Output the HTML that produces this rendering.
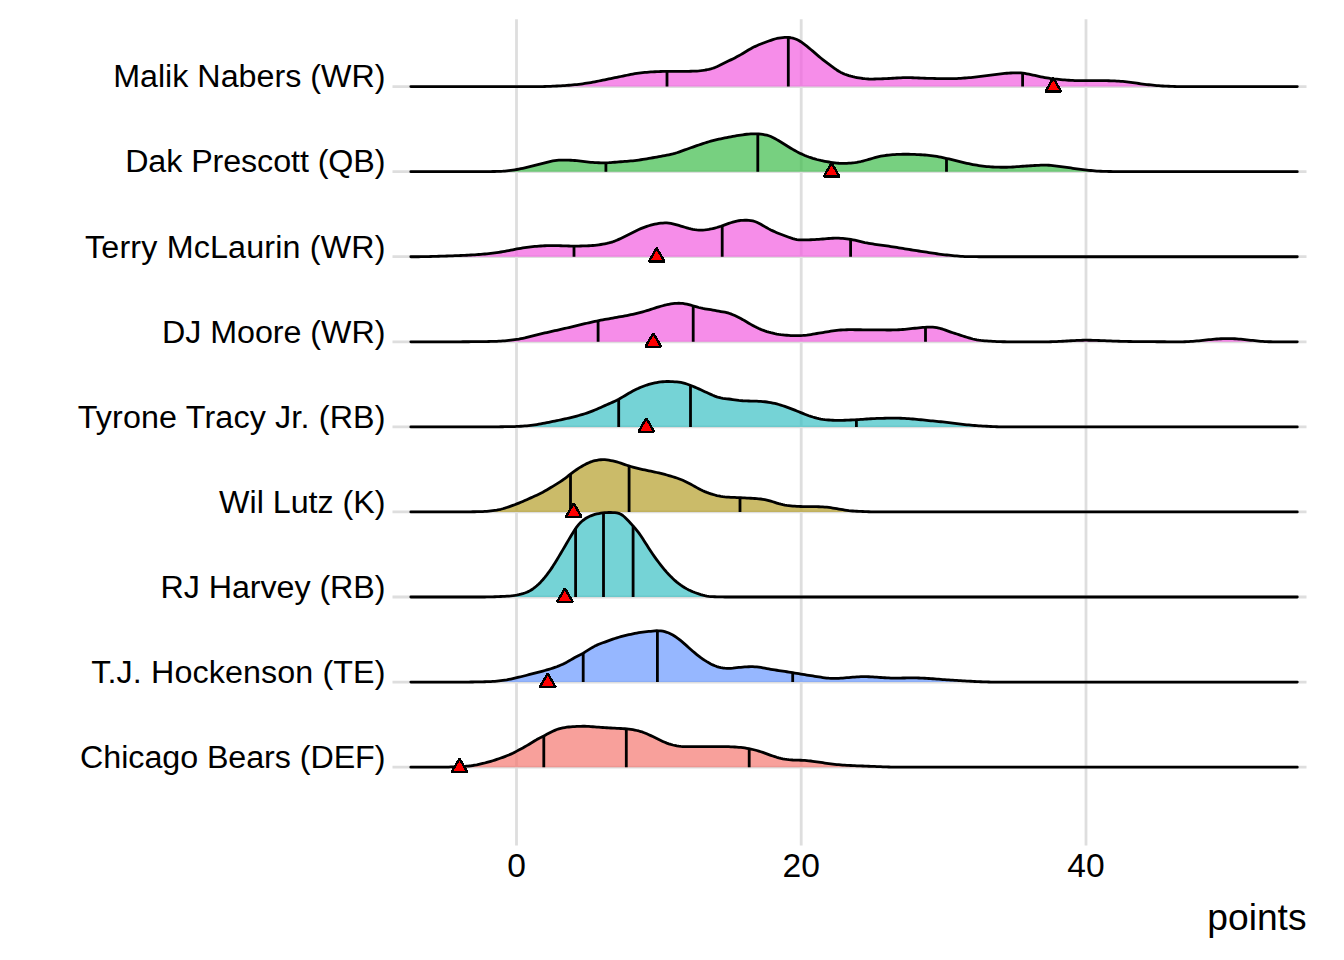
<!DOCTYPE html>
<html><head><meta charset="utf-8"><style>
html,body{margin:0;padding:0;background:#fff;width:1344px;height:960px;overflow:hidden}
svg text{font-family:"Liberation Sans",sans-serif;fill:#000}
</style></head><body>
<svg width="1344" height="960" viewBox="0 0 1344 960" style="display:block">
<rect width="1344" height="960" fill="#fff"/>
<path d="M392.5 86.6H1306.5M392.5 171.7H1306.5M392.5 256.7H1306.5M392.5 341.8H1306.5M392.5 426.9H1306.5M392.5 511.9H1306.5M392.5 597.0H1306.5M392.5 682.1H1306.5M392.5 767.2H1306.5M516.5 19.2V845.4M801.2 19.2V845.4M1086.0 19.2V845.4" stroke="#DEDEDE" stroke-width="2.8" fill="none"/>
<polygon points="410.8,86.60 410.8,86.60 412.8,86.60 414.8,86.60 416.8,86.60 418.8,86.60 420.8,86.60 422.8,86.60 424.8,86.60 426.8,86.60 428.8,86.60 430.8,86.60 432.8,86.60 434.8,86.60 436.8,86.60 438.8,86.60 440.8,86.60 442.8,86.60 444.8,86.60 446.8,86.60 448.8,86.60 450.8,86.60 452.8,86.60 454.8,86.60 456.8,86.60 458.8,86.60 460.8,86.60 462.8,86.60 464.8,86.60 466.8,86.60 468.8,86.60 470.8,86.60 472.8,86.60 474.8,86.60 476.8,86.60 478.8,86.60 480.8,86.60 482.8,86.60 484.8,86.60 486.8,86.60 488.8,86.60 490.8,86.60 492.8,86.60 494.8,86.60 496.8,86.60 498.8,86.60 500.8,86.60 502.8,86.60 504.8,86.60 506.8,86.60 508.8,86.60 510.8,86.60 512.8,86.60 514.8,86.60 516.8,86.60 518.8,86.60 520.8,86.60 522.8,86.60 524.8,86.60 526.8,86.60 528.8,86.60 530.8,86.60 532.8,86.60 534.8,86.60 536.8,86.60 538.8,86.59 540.8,86.58 542.8,86.56 544.8,86.52 546.8,86.46 548.8,86.39 550.8,86.31 552.8,86.21 554.8,86.11 556.8,86.01 558.8,85.89 560.8,85.78 562.8,85.66 564.8,85.54 566.8,85.40 568.8,85.25 570.8,85.09 572.8,84.91 574.8,84.73 576.8,84.52 578.8,84.29 580.8,84.05 582.8,83.77 584.8,83.48 586.8,83.17 588.8,82.85 590.8,82.51 592.8,82.16 594.8,81.79 596.8,81.40 598.8,81.00 600.8,80.59 602.8,80.18 604.8,79.76 606.8,79.35 608.8,78.94 610.8,78.53 612.8,78.12 614.8,77.71 616.8,77.31 618.8,76.90 620.8,76.50 622.8,76.09 624.8,75.67 626.8,75.25 628.8,74.84 630.8,74.44 632.8,74.07 634.8,73.73 636.8,73.42 638.8,73.15 640.8,72.90 642.8,72.67 644.8,72.46 646.8,72.27 648.8,72.11 650.8,71.97 652.8,71.85 654.8,71.75 656.8,71.66 658.8,71.58 660.8,71.51 662.8,71.46 664.8,71.43 666.8,71.41 668.8,71.40 670.8,71.40 672.8,71.40 674.8,71.40 676.8,71.40 678.8,71.40 680.8,71.39 682.8,71.39 684.8,71.37 686.8,71.34 688.8,71.31 690.8,71.26 692.8,71.20 694.8,71.13 696.8,71.03 698.8,70.88 700.8,70.68 702.8,70.42 704.8,70.11 706.8,69.75 708.8,69.34 710.8,68.86 712.8,68.27 714.8,67.57 716.8,66.74 718.8,65.82 720.8,64.84 722.8,63.83 724.8,62.82 726.8,61.84 728.8,60.86 730.8,59.88 732.8,58.89 734.8,57.88 736.8,56.84 738.8,55.76 740.8,54.64 742.8,53.46 744.8,52.25 746.8,51.03 748.8,49.82 750.8,48.68 752.8,47.60 754.8,46.61 756.8,45.69 758.8,44.83 760.8,44.02 762.8,43.24 764.8,42.50 766.8,41.77 768.8,41.04 770.8,40.33 772.8,39.64 774.8,39.01 776.8,38.48 778.8,38.07 780.8,37.77 782.8,37.58 784.8,37.46 786.8,37.43 788.8,37.51 790.8,37.75 792.8,38.16 794.8,38.74 796.8,39.52 798.8,40.51 800.8,41.72 802.8,43.11 804.8,44.62 806.8,46.19 808.8,47.81 810.8,49.47 812.8,51.17 814.8,52.91 816.8,54.63 818.8,56.33 820.8,57.98 822.8,59.57 824.8,61.13 826.8,62.65 828.8,64.15 830.8,65.63 832.8,67.11 834.8,68.57 836.8,69.97 838.8,71.26 840.8,72.39 842.8,73.35 844.8,74.19 846.8,74.93 848.8,75.59 850.8,76.18 852.8,76.68 854.8,77.13 856.8,77.53 858.8,77.89 860.8,78.21 862.8,78.50 864.8,78.73 866.8,78.90 868.8,79.01 870.8,79.05 872.8,79.05 874.8,79.01 876.8,78.96 878.8,78.90 880.8,78.83 882.8,78.76 884.8,78.68 886.8,78.59 888.8,78.49 890.8,78.37 892.8,78.25 894.8,78.12 896.8,78.00 898.8,77.89 900.8,77.79 902.8,77.71 904.8,77.66 906.8,77.64 908.8,77.64 910.8,77.68 912.8,77.73 914.8,77.80 916.8,77.89 918.8,77.98 920.8,78.07 922.8,78.16 924.8,78.25 926.8,78.32 928.8,78.38 930.8,78.42 932.8,78.47 934.8,78.50 936.8,78.54 938.8,78.57 940.8,78.61 942.8,78.63 944.8,78.66 946.8,78.67 948.8,78.68 950.8,78.68 952.8,78.66 954.8,78.61 956.8,78.53 958.8,78.43 960.8,78.30 962.8,78.17 964.8,78.02 966.8,77.86 968.8,77.70 970.8,77.52 972.8,77.32 974.8,77.10 976.8,76.88 978.8,76.64 980.8,76.39 982.8,76.15 984.8,75.90 986.8,75.64 988.8,75.39 990.8,75.13 992.8,74.86 994.8,74.58 996.8,74.31 998.8,74.05 1000.8,73.82 1002.8,73.61 1004.8,73.43 1006.8,73.27 1008.8,73.13 1010.8,73.00 1012.8,72.90 1014.8,72.82 1016.8,72.78 1018.8,72.82 1020.8,72.94 1022.8,73.15 1024.8,73.45 1026.8,73.80 1028.8,74.18 1030.8,74.58 1032.8,75.01 1034.8,75.45 1036.8,75.91 1038.8,76.37 1040.8,76.80 1042.8,77.20 1044.8,77.57 1046.8,77.91 1048.8,78.23 1050.8,78.53 1052.8,78.79 1054.8,79.02 1056.8,79.23 1058.8,79.42 1060.8,79.60 1062.8,79.77 1064.8,79.94 1066.8,80.09 1068.8,80.24 1070.8,80.36 1072.8,80.47 1074.8,80.56 1076.8,80.62 1078.8,80.66 1080.8,80.69 1082.8,80.70 1084.8,80.70 1086.8,80.70 1088.8,80.70 1090.8,80.70 1092.8,80.70 1094.8,80.70 1096.8,80.70 1098.8,80.70 1100.8,80.70 1102.8,80.70 1104.8,80.71 1106.8,80.72 1108.8,80.76 1110.8,80.81 1112.8,80.88 1114.8,80.97 1116.8,81.08 1118.8,81.19 1120.8,81.32 1122.8,81.47 1124.8,81.63 1126.8,81.81 1128.8,82.03 1130.8,82.29 1132.8,82.58 1134.8,82.88 1136.8,83.19 1138.8,83.50 1140.8,83.78 1142.8,84.05 1144.8,84.30 1146.8,84.54 1148.8,84.76 1150.8,84.98 1152.8,85.19 1154.8,85.38 1156.8,85.56 1158.8,85.72 1160.8,85.86 1162.8,85.98 1164.8,86.09 1166.8,86.18 1168.8,86.27 1170.8,86.35 1172.8,86.42 1174.8,86.48 1176.8,86.53 1178.8,86.56 1180.8,86.58 1182.8,86.59 1184.8,86.60 1186.8,86.60 1188.8,86.60 1190.8,86.60 1192.8,86.60 1194.8,86.60 1196.8,86.60 1198.8,86.60 1200.8,86.60 1202.8,86.60 1204.8,86.60 1206.8,86.60 1208.8,86.60 1210.8,86.60 1212.8,86.60 1214.8,86.60 1216.8,86.60 1218.8,86.60 1220.8,86.60 1222.8,86.60 1224.8,86.60 1226.8,86.60 1228.8,86.60 1230.8,86.60 1232.8,86.60 1234.8,86.60 1236.8,86.60 1238.8,86.60 1240.8,86.60 1242.8,86.60 1244.8,86.60 1246.8,86.60 1248.8,86.60 1250.8,86.60 1252.8,86.60 1254.8,86.60 1256.8,86.60 1258.8,86.60 1260.8,86.60 1262.8,86.60 1264.8,86.60 1266.8,86.60 1268.8,86.60 1270.8,86.60 1272.8,86.60 1274.8,86.60 1276.8,86.60 1278.8,86.60 1280.8,86.60 1282.8,86.60 1284.8,86.60 1286.8,86.60 1288.8,86.60 1290.8,86.60 1292.8,86.60 1294.8,86.60 1296.8,86.60 1297.3,86.60 1297.3,86.60" fill="rgb(242,92,224)" fill-opacity="0.7"/>
<path d="M667 86.60V71.40M788.3 86.60V37.30M1022.6 86.60V73.02" stroke="#000" stroke-width="2.8" fill="none"/>
<polyline points="410.8,86.60 412.8,86.60 414.8,86.60 416.8,86.60 418.8,86.60 420.8,86.60 422.8,86.60 424.8,86.60 426.8,86.60 428.8,86.60 430.8,86.60 432.8,86.60 434.8,86.60 436.8,86.60 438.8,86.60 440.8,86.60 442.8,86.60 444.8,86.60 446.8,86.60 448.8,86.60 450.8,86.60 452.8,86.60 454.8,86.60 456.8,86.60 458.8,86.60 460.8,86.60 462.8,86.60 464.8,86.60 466.8,86.60 468.8,86.60 470.8,86.60 472.8,86.60 474.8,86.60 476.8,86.60 478.8,86.60 480.8,86.60 482.8,86.60 484.8,86.60 486.8,86.60 488.8,86.60 490.8,86.60 492.8,86.60 494.8,86.60 496.8,86.60 498.8,86.60 500.8,86.60 502.8,86.60 504.8,86.60 506.8,86.60 508.8,86.60 510.8,86.60 512.8,86.60 514.8,86.60 516.8,86.60 518.8,86.60 520.8,86.60 522.8,86.60 524.8,86.60 526.8,86.60 528.8,86.60 530.8,86.60 532.8,86.60 534.8,86.60 536.8,86.60 538.8,86.59 540.8,86.58 542.8,86.56 544.8,86.52 546.8,86.46 548.8,86.39 550.8,86.31 552.8,86.21 554.8,86.11 556.8,86.01 558.8,85.89 560.8,85.78 562.8,85.66 564.8,85.54 566.8,85.40 568.8,85.25 570.8,85.09 572.8,84.91 574.8,84.73 576.8,84.52 578.8,84.29 580.8,84.05 582.8,83.77 584.8,83.48 586.8,83.17 588.8,82.85 590.8,82.51 592.8,82.16 594.8,81.79 596.8,81.40 598.8,81.00 600.8,80.59 602.8,80.18 604.8,79.76 606.8,79.35 608.8,78.94 610.8,78.53 612.8,78.12 614.8,77.71 616.8,77.31 618.8,76.90 620.8,76.50 622.8,76.09 624.8,75.67 626.8,75.25 628.8,74.84 630.8,74.44 632.8,74.07 634.8,73.73 636.8,73.42 638.8,73.15 640.8,72.90 642.8,72.67 644.8,72.46 646.8,72.27 648.8,72.11 650.8,71.97 652.8,71.85 654.8,71.75 656.8,71.66 658.8,71.58 660.8,71.51 662.8,71.46 664.8,71.43 666.8,71.41 668.8,71.40 670.8,71.40 672.8,71.40 674.8,71.40 676.8,71.40 678.8,71.40 680.8,71.39 682.8,71.39 684.8,71.37 686.8,71.34 688.8,71.31 690.8,71.26 692.8,71.20 694.8,71.13 696.8,71.03 698.8,70.88 700.8,70.68 702.8,70.42 704.8,70.11 706.8,69.75 708.8,69.34 710.8,68.86 712.8,68.27 714.8,67.57 716.8,66.74 718.8,65.82 720.8,64.84 722.8,63.83 724.8,62.82 726.8,61.84 728.8,60.86 730.8,59.88 732.8,58.89 734.8,57.88 736.8,56.84 738.8,55.76 740.8,54.64 742.8,53.46 744.8,52.25 746.8,51.03 748.8,49.82 750.8,48.68 752.8,47.60 754.8,46.61 756.8,45.69 758.8,44.83 760.8,44.02 762.8,43.24 764.8,42.50 766.8,41.77 768.8,41.04 770.8,40.33 772.8,39.64 774.8,39.01 776.8,38.48 778.8,38.07 780.8,37.77 782.8,37.58 784.8,37.46 786.8,37.43 788.8,37.51 790.8,37.75 792.8,38.16 794.8,38.74 796.8,39.52 798.8,40.51 800.8,41.72 802.8,43.11 804.8,44.62 806.8,46.19 808.8,47.81 810.8,49.47 812.8,51.17 814.8,52.91 816.8,54.63 818.8,56.33 820.8,57.98 822.8,59.57 824.8,61.13 826.8,62.65 828.8,64.15 830.8,65.63 832.8,67.11 834.8,68.57 836.8,69.97 838.8,71.26 840.8,72.39 842.8,73.35 844.8,74.19 846.8,74.93 848.8,75.59 850.8,76.18 852.8,76.68 854.8,77.13 856.8,77.53 858.8,77.89 860.8,78.21 862.8,78.50 864.8,78.73 866.8,78.90 868.8,79.01 870.8,79.05 872.8,79.05 874.8,79.01 876.8,78.96 878.8,78.90 880.8,78.83 882.8,78.76 884.8,78.68 886.8,78.59 888.8,78.49 890.8,78.37 892.8,78.25 894.8,78.12 896.8,78.00 898.8,77.89 900.8,77.79 902.8,77.71 904.8,77.66 906.8,77.64 908.8,77.64 910.8,77.68 912.8,77.73 914.8,77.80 916.8,77.89 918.8,77.98 920.8,78.07 922.8,78.16 924.8,78.25 926.8,78.32 928.8,78.38 930.8,78.42 932.8,78.47 934.8,78.50 936.8,78.54 938.8,78.57 940.8,78.61 942.8,78.63 944.8,78.66 946.8,78.67 948.8,78.68 950.8,78.68 952.8,78.66 954.8,78.61 956.8,78.53 958.8,78.43 960.8,78.30 962.8,78.17 964.8,78.02 966.8,77.86 968.8,77.70 970.8,77.52 972.8,77.32 974.8,77.10 976.8,76.88 978.8,76.64 980.8,76.39 982.8,76.15 984.8,75.90 986.8,75.64 988.8,75.39 990.8,75.13 992.8,74.86 994.8,74.58 996.8,74.31 998.8,74.05 1000.8,73.82 1002.8,73.61 1004.8,73.43 1006.8,73.27 1008.8,73.13 1010.8,73.00 1012.8,72.90 1014.8,72.82 1016.8,72.78 1018.8,72.82 1020.8,72.94 1022.8,73.15 1024.8,73.45 1026.8,73.80 1028.8,74.18 1030.8,74.58 1032.8,75.01 1034.8,75.45 1036.8,75.91 1038.8,76.37 1040.8,76.80 1042.8,77.20 1044.8,77.57 1046.8,77.91 1048.8,78.23 1050.8,78.53 1052.8,78.79 1054.8,79.02 1056.8,79.23 1058.8,79.42 1060.8,79.60 1062.8,79.77 1064.8,79.94 1066.8,80.09 1068.8,80.24 1070.8,80.36 1072.8,80.47 1074.8,80.56 1076.8,80.62 1078.8,80.66 1080.8,80.69 1082.8,80.70 1084.8,80.70 1086.8,80.70 1088.8,80.70 1090.8,80.70 1092.8,80.70 1094.8,80.70 1096.8,80.70 1098.8,80.70 1100.8,80.70 1102.8,80.70 1104.8,80.71 1106.8,80.72 1108.8,80.76 1110.8,80.81 1112.8,80.88 1114.8,80.97 1116.8,81.08 1118.8,81.19 1120.8,81.32 1122.8,81.47 1124.8,81.63 1126.8,81.81 1128.8,82.03 1130.8,82.29 1132.8,82.58 1134.8,82.88 1136.8,83.19 1138.8,83.50 1140.8,83.78 1142.8,84.05 1144.8,84.30 1146.8,84.54 1148.8,84.76 1150.8,84.98 1152.8,85.19 1154.8,85.38 1156.8,85.56 1158.8,85.72 1160.8,85.86 1162.8,85.98 1164.8,86.09 1166.8,86.18 1168.8,86.27 1170.8,86.35 1172.8,86.42 1174.8,86.48 1176.8,86.53 1178.8,86.56 1180.8,86.58 1182.8,86.59 1184.8,86.60 1186.8,86.60 1188.8,86.60 1190.8,86.60 1192.8,86.60 1194.8,86.60 1196.8,86.60 1198.8,86.60 1200.8,86.60 1202.8,86.60 1204.8,86.60 1206.8,86.60 1208.8,86.60 1210.8,86.60 1212.8,86.60 1214.8,86.60 1216.8,86.60 1218.8,86.60 1220.8,86.60 1222.8,86.60 1224.8,86.60 1226.8,86.60 1228.8,86.60 1230.8,86.60 1232.8,86.60 1234.8,86.60 1236.8,86.60 1238.8,86.60 1240.8,86.60 1242.8,86.60 1244.8,86.60 1246.8,86.60 1248.8,86.60 1250.8,86.60 1252.8,86.60 1254.8,86.60 1256.8,86.60 1258.8,86.60 1260.8,86.60 1262.8,86.60 1264.8,86.60 1266.8,86.60 1268.8,86.60 1270.8,86.60 1272.8,86.60 1274.8,86.60 1276.8,86.60 1278.8,86.60 1280.8,86.60 1282.8,86.60 1284.8,86.60 1286.8,86.60 1288.8,86.60 1290.8,86.60 1292.8,86.60 1294.8,86.60 1296.8,86.60 1297.3,86.60" stroke="#000" stroke-width="2.8" fill="none" stroke-linecap="round" stroke-linejoin="round"/>
<polygon points="410.8,171.67 410.8,171.67 412.8,171.67 414.8,171.67 416.8,171.67 418.8,171.67 420.8,171.67 422.8,171.67 424.8,171.67 426.8,171.67 428.8,171.67 430.8,171.67 432.8,171.67 434.8,171.67 436.8,171.67 438.8,171.67 440.8,171.67 442.8,171.67 444.8,171.67 446.8,171.67 448.8,171.67 450.8,171.67 452.8,171.67 454.8,171.67 456.8,171.67 458.8,171.67 460.8,171.67 462.8,171.67 464.8,171.67 466.8,171.67 468.8,171.67 470.8,171.67 472.8,171.67 474.8,171.66 476.8,171.65 478.8,171.64 480.8,171.63 482.8,171.62 484.8,171.60 486.8,171.58 488.8,171.56 490.8,171.54 492.8,171.51 494.8,171.48 496.8,171.44 498.8,171.40 500.8,171.32 502.8,171.22 504.8,171.07 506.8,170.88 508.8,170.65 510.8,170.40 512.8,170.13 514.8,169.83 516.8,169.50 518.8,169.13 520.8,168.72 522.8,168.28 524.8,167.82 526.8,167.34 528.8,166.86 530.8,166.37 532.8,165.86 534.8,165.34 536.8,164.82 538.8,164.30 540.8,163.79 542.8,163.29 544.8,162.80 546.8,162.31 548.8,161.82 550.8,161.34 552.8,160.91 554.8,160.55 556.8,160.28 558.8,160.13 560.8,160.06 562.8,160.05 564.8,160.08 566.8,160.13 568.8,160.20 570.8,160.27 572.8,160.37 574.8,160.50 576.8,160.67 578.8,160.89 580.8,161.15 582.8,161.43 584.8,161.70 586.8,161.94 588.8,162.14 590.8,162.30 592.8,162.44 594.8,162.57 596.8,162.67 598.8,162.76 600.8,162.82 602.8,162.85 604.8,162.84 606.8,162.78 608.8,162.69 610.8,162.55 612.8,162.40 614.8,162.24 616.8,162.07 618.8,161.91 620.8,161.76 622.8,161.61 624.8,161.46 626.8,161.30 628.8,161.14 630.8,160.96 632.8,160.77 634.8,160.55 636.8,160.30 638.8,160.04 640.8,159.75 642.8,159.44 644.8,159.12 646.8,158.79 648.8,158.46 650.8,158.11 652.8,157.75 654.8,157.38 656.8,157.01 658.8,156.63 660.8,156.26 662.8,155.90 664.8,155.53 666.8,155.16 668.8,154.77 670.8,154.34 672.8,153.87 674.8,153.34 676.8,152.74 678.8,152.08 680.8,151.38 682.8,150.66 684.8,149.93 686.8,149.21 688.8,148.50 690.8,147.78 692.8,147.07 694.8,146.36 696.8,145.67 698.8,144.98 700.8,144.31 702.8,143.66 704.8,143.01 706.8,142.38 708.8,141.78 710.8,141.20 712.8,140.65 714.8,140.14 716.8,139.66 718.8,139.20 720.8,138.77 722.8,138.35 724.8,137.94 726.8,137.54 728.8,137.15 730.8,136.76 732.8,136.38 734.8,136.02 736.8,135.67 738.8,135.36 740.8,135.06 742.8,134.77 744.8,134.50 746.8,134.25 748.8,134.04 750.8,133.89 752.8,133.81 754.8,133.80 756.8,133.87 758.8,134.01 760.8,134.21 762.8,134.47 764.8,134.79 766.8,135.21 768.8,135.77 770.8,136.51 772.8,137.43 774.8,138.48 776.8,139.62 778.8,140.80 780.8,141.99 782.8,143.21 784.8,144.45 786.8,145.71 788.8,146.98 790.8,148.22 792.8,149.40 794.8,150.53 796.8,151.61 798.8,152.64 800.8,153.63 802.8,154.56 804.8,155.43 806.8,156.24 808.8,156.99 810.8,157.68 812.8,158.33 814.8,158.93 816.8,159.49 818.8,160.00 820.8,160.48 822.8,160.91 824.8,161.31 826.8,161.67 828.8,162.00 830.8,162.30 832.8,162.58 834.8,162.84 836.8,163.07 838.8,163.25 840.8,163.37 842.8,163.42 844.8,163.40 846.8,163.32 848.8,163.19 850.8,163.03 852.8,162.83 854.8,162.60 856.8,162.30 858.8,161.94 860.8,161.51 862.8,161.03 864.8,160.51 866.8,159.98 868.8,159.43 870.8,158.86 872.8,158.28 874.8,157.70 876.8,157.15 878.8,156.66 880.8,156.23 882.8,155.87 884.8,155.55 886.8,155.26 888.8,155.02 890.8,154.82 892.8,154.66 894.8,154.54 896.8,154.44 898.8,154.36 900.8,154.30 902.8,154.26 904.8,154.23 906.8,154.23 908.8,154.26 910.8,154.30 912.8,154.37 914.8,154.44 916.8,154.53 918.8,154.63 920.8,154.74 922.8,154.87 924.8,155.02 926.8,155.19 928.8,155.38 930.8,155.59 932.8,155.85 934.8,156.14 936.8,156.47 938.8,156.83 940.8,157.23 942.8,157.64 944.8,158.07 946.8,158.52 948.8,158.98 950.8,159.47 952.8,159.97 954.8,160.47 956.8,160.96 958.8,161.45 960.8,161.93 962.8,162.40 964.8,162.86 966.8,163.30 968.8,163.72 970.8,164.12 972.8,164.51 974.8,164.88 976.8,165.23 978.8,165.55 980.8,165.84 982.8,166.09 984.8,166.33 986.8,166.53 988.8,166.72 990.8,166.87 992.8,166.99 994.8,167.08 996.8,167.15 998.8,167.20 1000.8,167.24 1002.8,167.26 1004.8,167.27 1006.8,167.26 1008.8,167.22 1010.8,167.13 1012.8,167.02 1014.8,166.88 1016.8,166.72 1018.8,166.56 1020.8,166.40 1022.8,166.26 1024.8,166.13 1026.8,166.00 1028.8,165.87 1030.8,165.74 1032.8,165.61 1034.8,165.49 1036.8,165.39 1038.8,165.29 1040.8,165.22 1042.8,165.17 1044.8,165.15 1046.8,165.18 1048.8,165.26 1050.8,165.40 1052.8,165.59 1054.8,165.81 1056.8,166.06 1058.8,166.32 1060.8,166.58 1062.8,166.84 1064.8,167.12 1066.8,167.40 1068.8,167.69 1070.8,167.99 1072.8,168.29 1074.8,168.58 1076.8,168.86 1078.8,169.12 1080.8,169.37 1082.8,169.61 1084.8,169.85 1086.8,170.08 1088.8,170.30 1090.8,170.51 1092.8,170.70 1094.8,170.88 1096.8,171.03 1098.8,171.15 1100.8,171.25 1102.8,171.32 1104.8,171.38 1106.8,171.43 1108.8,171.48 1110.8,171.52 1112.8,171.56 1114.8,171.59 1116.8,171.62 1118.8,171.64 1120.8,171.65 1122.8,171.66 1124.8,171.67 1126.8,171.67 1128.8,171.67 1130.8,171.67 1132.8,171.67 1134.8,171.67 1136.8,171.67 1138.8,171.67 1140.8,171.67 1142.8,171.67 1144.8,171.67 1146.8,171.67 1148.8,171.67 1150.8,171.67 1152.8,171.67 1154.8,171.67 1156.8,171.67 1158.8,171.67 1160.8,171.67 1162.8,171.67 1164.8,171.67 1166.8,171.67 1168.8,171.67 1170.8,171.67 1172.8,171.67 1174.8,171.67 1176.8,171.67 1178.8,171.67 1180.8,171.67 1182.8,171.67 1184.8,171.67 1186.8,171.67 1188.8,171.67 1190.8,171.67 1192.8,171.67 1194.8,171.67 1196.8,171.67 1198.8,171.67 1200.8,171.67 1202.8,171.67 1204.8,171.67 1206.8,171.67 1208.8,171.67 1210.8,171.67 1212.8,171.67 1214.8,171.67 1216.8,171.67 1218.8,171.67 1220.8,171.67 1222.8,171.67 1224.8,171.67 1226.8,171.67 1228.8,171.67 1230.8,171.67 1232.8,171.67 1234.8,171.67 1236.8,171.67 1238.8,171.67 1240.8,171.67 1242.8,171.67 1244.8,171.67 1246.8,171.67 1248.8,171.67 1250.8,171.67 1252.8,171.67 1254.8,171.67 1256.8,171.67 1258.8,171.67 1260.8,171.67 1262.8,171.67 1264.8,171.67 1266.8,171.67 1268.8,171.67 1270.8,171.67 1272.8,171.67 1274.8,171.67 1276.8,171.67 1278.8,171.67 1280.8,171.67 1282.8,171.67 1284.8,171.67 1286.8,171.67 1288.8,171.67 1290.8,171.67 1292.8,171.67 1294.8,171.67 1296.8,171.67 1297.3,171.67 1297.3,171.67" fill="rgb(61,188,74)" fill-opacity="0.7"/>
<path d="M605.9 171.67V162.87M757.8 171.67V133.86M946.5 171.67V158.42" stroke="#000" stroke-width="2.8" fill="none"/>
<polyline points="410.8,171.67 412.8,171.67 414.8,171.67 416.8,171.67 418.8,171.67 420.8,171.67 422.8,171.67 424.8,171.67 426.8,171.67 428.8,171.67 430.8,171.67 432.8,171.67 434.8,171.67 436.8,171.67 438.8,171.67 440.8,171.67 442.8,171.67 444.8,171.67 446.8,171.67 448.8,171.67 450.8,171.67 452.8,171.67 454.8,171.67 456.8,171.67 458.8,171.67 460.8,171.67 462.8,171.67 464.8,171.67 466.8,171.67 468.8,171.67 470.8,171.67 472.8,171.67 474.8,171.66 476.8,171.65 478.8,171.64 480.8,171.63 482.8,171.62 484.8,171.60 486.8,171.58 488.8,171.56 490.8,171.54 492.8,171.51 494.8,171.48 496.8,171.44 498.8,171.40 500.8,171.32 502.8,171.22 504.8,171.07 506.8,170.88 508.8,170.65 510.8,170.40 512.8,170.13 514.8,169.83 516.8,169.50 518.8,169.13 520.8,168.72 522.8,168.28 524.8,167.82 526.8,167.34 528.8,166.86 530.8,166.37 532.8,165.86 534.8,165.34 536.8,164.82 538.8,164.30 540.8,163.79 542.8,163.29 544.8,162.80 546.8,162.31 548.8,161.82 550.8,161.34 552.8,160.91 554.8,160.55 556.8,160.28 558.8,160.13 560.8,160.06 562.8,160.05 564.8,160.08 566.8,160.13 568.8,160.20 570.8,160.27 572.8,160.37 574.8,160.50 576.8,160.67 578.8,160.89 580.8,161.15 582.8,161.43 584.8,161.70 586.8,161.94 588.8,162.14 590.8,162.30 592.8,162.44 594.8,162.57 596.8,162.67 598.8,162.76 600.8,162.82 602.8,162.85 604.8,162.84 606.8,162.78 608.8,162.69 610.8,162.55 612.8,162.40 614.8,162.24 616.8,162.07 618.8,161.91 620.8,161.76 622.8,161.61 624.8,161.46 626.8,161.30 628.8,161.14 630.8,160.96 632.8,160.77 634.8,160.55 636.8,160.30 638.8,160.04 640.8,159.75 642.8,159.44 644.8,159.12 646.8,158.79 648.8,158.46 650.8,158.11 652.8,157.75 654.8,157.38 656.8,157.01 658.8,156.63 660.8,156.26 662.8,155.90 664.8,155.53 666.8,155.16 668.8,154.77 670.8,154.34 672.8,153.87 674.8,153.34 676.8,152.74 678.8,152.08 680.8,151.38 682.8,150.66 684.8,149.93 686.8,149.21 688.8,148.50 690.8,147.78 692.8,147.07 694.8,146.36 696.8,145.67 698.8,144.98 700.8,144.31 702.8,143.66 704.8,143.01 706.8,142.38 708.8,141.78 710.8,141.20 712.8,140.65 714.8,140.14 716.8,139.66 718.8,139.20 720.8,138.77 722.8,138.35 724.8,137.94 726.8,137.54 728.8,137.15 730.8,136.76 732.8,136.38 734.8,136.02 736.8,135.67 738.8,135.36 740.8,135.06 742.8,134.77 744.8,134.50 746.8,134.25 748.8,134.04 750.8,133.89 752.8,133.81 754.8,133.80 756.8,133.87 758.8,134.01 760.8,134.21 762.8,134.47 764.8,134.79 766.8,135.21 768.8,135.77 770.8,136.51 772.8,137.43 774.8,138.48 776.8,139.62 778.8,140.80 780.8,141.99 782.8,143.21 784.8,144.45 786.8,145.71 788.8,146.98 790.8,148.22 792.8,149.40 794.8,150.53 796.8,151.61 798.8,152.64 800.8,153.63 802.8,154.56 804.8,155.43 806.8,156.24 808.8,156.99 810.8,157.68 812.8,158.33 814.8,158.93 816.8,159.49 818.8,160.00 820.8,160.48 822.8,160.91 824.8,161.31 826.8,161.67 828.8,162.00 830.8,162.30 832.8,162.58 834.8,162.84 836.8,163.07 838.8,163.25 840.8,163.37 842.8,163.42 844.8,163.40 846.8,163.32 848.8,163.19 850.8,163.03 852.8,162.83 854.8,162.60 856.8,162.30 858.8,161.94 860.8,161.51 862.8,161.03 864.8,160.51 866.8,159.98 868.8,159.43 870.8,158.86 872.8,158.28 874.8,157.70 876.8,157.15 878.8,156.66 880.8,156.23 882.8,155.87 884.8,155.55 886.8,155.26 888.8,155.02 890.8,154.82 892.8,154.66 894.8,154.54 896.8,154.44 898.8,154.36 900.8,154.30 902.8,154.26 904.8,154.23 906.8,154.23 908.8,154.26 910.8,154.30 912.8,154.37 914.8,154.44 916.8,154.53 918.8,154.63 920.8,154.74 922.8,154.87 924.8,155.02 926.8,155.19 928.8,155.38 930.8,155.59 932.8,155.85 934.8,156.14 936.8,156.47 938.8,156.83 940.8,157.23 942.8,157.64 944.8,158.07 946.8,158.52 948.8,158.98 950.8,159.47 952.8,159.97 954.8,160.47 956.8,160.96 958.8,161.45 960.8,161.93 962.8,162.40 964.8,162.86 966.8,163.30 968.8,163.72 970.8,164.12 972.8,164.51 974.8,164.88 976.8,165.23 978.8,165.55 980.8,165.84 982.8,166.09 984.8,166.33 986.8,166.53 988.8,166.72 990.8,166.87 992.8,166.99 994.8,167.08 996.8,167.15 998.8,167.20 1000.8,167.24 1002.8,167.26 1004.8,167.27 1006.8,167.26 1008.8,167.22 1010.8,167.13 1012.8,167.02 1014.8,166.88 1016.8,166.72 1018.8,166.56 1020.8,166.40 1022.8,166.26 1024.8,166.13 1026.8,166.00 1028.8,165.87 1030.8,165.74 1032.8,165.61 1034.8,165.49 1036.8,165.39 1038.8,165.29 1040.8,165.22 1042.8,165.17 1044.8,165.15 1046.8,165.18 1048.8,165.26 1050.8,165.40 1052.8,165.59 1054.8,165.81 1056.8,166.06 1058.8,166.32 1060.8,166.58 1062.8,166.84 1064.8,167.12 1066.8,167.40 1068.8,167.69 1070.8,167.99 1072.8,168.29 1074.8,168.58 1076.8,168.86 1078.8,169.12 1080.8,169.37 1082.8,169.61 1084.8,169.85 1086.8,170.08 1088.8,170.30 1090.8,170.51 1092.8,170.70 1094.8,170.88 1096.8,171.03 1098.8,171.15 1100.8,171.25 1102.8,171.32 1104.8,171.38 1106.8,171.43 1108.8,171.48 1110.8,171.52 1112.8,171.56 1114.8,171.59 1116.8,171.62 1118.8,171.64 1120.8,171.65 1122.8,171.66 1124.8,171.67 1126.8,171.67 1128.8,171.67 1130.8,171.67 1132.8,171.67 1134.8,171.67 1136.8,171.67 1138.8,171.67 1140.8,171.67 1142.8,171.67 1144.8,171.67 1146.8,171.67 1148.8,171.67 1150.8,171.67 1152.8,171.67 1154.8,171.67 1156.8,171.67 1158.8,171.67 1160.8,171.67 1162.8,171.67 1164.8,171.67 1166.8,171.67 1168.8,171.67 1170.8,171.67 1172.8,171.67 1174.8,171.67 1176.8,171.67 1178.8,171.67 1180.8,171.67 1182.8,171.67 1184.8,171.67 1186.8,171.67 1188.8,171.67 1190.8,171.67 1192.8,171.67 1194.8,171.67 1196.8,171.67 1198.8,171.67 1200.8,171.67 1202.8,171.67 1204.8,171.67 1206.8,171.67 1208.8,171.67 1210.8,171.67 1212.8,171.67 1214.8,171.67 1216.8,171.67 1218.8,171.67 1220.8,171.67 1222.8,171.67 1224.8,171.67 1226.8,171.67 1228.8,171.67 1230.8,171.67 1232.8,171.67 1234.8,171.67 1236.8,171.67 1238.8,171.67 1240.8,171.67 1242.8,171.67 1244.8,171.67 1246.8,171.67 1248.8,171.67 1250.8,171.67 1252.8,171.67 1254.8,171.67 1256.8,171.67 1258.8,171.67 1260.8,171.67 1262.8,171.67 1264.8,171.67 1266.8,171.67 1268.8,171.67 1270.8,171.67 1272.8,171.67 1274.8,171.67 1276.8,171.67 1278.8,171.67 1280.8,171.67 1282.8,171.67 1284.8,171.67 1286.8,171.67 1288.8,171.67 1290.8,171.67 1292.8,171.67 1294.8,171.67 1296.8,171.67 1297.3,171.67" stroke="#000" stroke-width="2.8" fill="none" stroke-linecap="round" stroke-linejoin="round"/>
<polygon points="410.8,256.74 410.8,256.74 412.8,256.74 414.8,256.74 416.8,256.74 418.8,256.73 420.8,256.72 422.8,256.70 424.8,256.67 426.8,256.63 428.8,256.57 430.8,256.51 432.8,256.44 434.8,256.37 436.8,256.30 438.8,256.24 440.8,256.17 442.8,256.11 444.8,256.05 446.8,255.98 448.8,255.92 450.8,255.85 452.8,255.79 454.8,255.72 456.8,255.65 458.8,255.57 460.8,255.49 462.8,255.41 464.8,255.32 466.8,255.23 468.8,255.13 470.8,255.02 472.8,254.90 474.8,254.78 476.8,254.64 478.8,254.49 480.8,254.33 482.8,254.17 484.8,253.99 486.8,253.80 488.8,253.60 490.8,253.39 492.8,253.16 494.8,252.90 496.8,252.62 498.8,252.32 500.8,252.00 502.8,251.67 504.8,251.32 506.8,250.96 508.8,250.59 510.8,250.19 512.8,249.79 514.8,249.38 516.8,248.98 518.8,248.61 520.8,248.26 522.8,247.94 524.8,247.65 526.8,247.37 528.8,247.11 530.8,246.88 532.8,246.66 534.8,246.47 536.8,246.29 538.8,246.13 540.8,245.99 542.8,245.85 544.8,245.74 546.8,245.64 548.8,245.58 550.8,245.54 552.8,245.54 554.8,245.56 556.8,245.61 558.8,245.67 560.8,245.74 562.8,245.81 564.8,245.88 566.8,245.95 568.8,246.01 570.8,246.05 572.8,246.07 574.8,246.08 576.8,246.07 578.8,246.05 580.8,246.01 582.8,245.96 584.8,245.91 586.8,245.84 588.8,245.76 590.8,245.65 592.8,245.50 594.8,245.31 596.8,245.08 598.8,244.81 600.8,244.50 602.8,244.17 604.8,243.80 606.8,243.40 608.8,242.95 610.8,242.43 612.8,241.80 614.8,241.08 616.8,240.25 618.8,239.35 620.8,238.41 622.8,237.44 624.8,236.46 626.8,235.48 628.8,234.48 630.8,233.46 632.8,232.42 634.8,231.40 636.8,230.41 638.8,229.49 640.8,228.63 642.8,227.84 644.8,227.10 646.8,226.41 648.8,225.77 650.8,225.18 652.8,224.65 654.8,224.18 656.8,223.78 658.8,223.45 660.8,223.21 662.8,223.04 664.8,222.95 666.8,222.97 668.8,223.11 670.8,223.40 672.8,223.81 674.8,224.31 676.8,224.86 678.8,225.44 680.8,226.04 682.8,226.65 684.8,227.26 686.8,227.84 688.8,228.40 690.8,228.90 692.8,229.35 694.8,229.69 696.8,229.92 698.8,230.04 700.8,230.07 702.8,230.04 704.8,229.94 706.8,229.73 708.8,229.40 710.8,228.99 712.8,228.52 714.8,228.03 716.8,227.50 718.8,226.92 720.8,226.28 722.8,225.58 724.8,224.83 726.8,224.08 728.8,223.37 730.8,222.73 732.8,222.15 734.8,221.62 736.8,221.14 738.8,220.74 740.8,220.45 742.8,220.30 744.8,220.24 746.8,220.25 748.8,220.34 750.8,220.56 752.8,220.94 754.8,221.52 756.8,222.28 758.8,223.21 760.8,224.30 762.8,225.46 764.8,226.63 766.8,227.78 768.8,228.88 770.8,229.91 772.8,230.88 774.8,231.80 776.8,232.67 778.8,233.50 780.8,234.28 782.8,235.04 784.8,235.77 786.8,236.49 788.8,237.22 790.8,237.92 792.8,238.56 794.8,239.11 796.8,239.52 798.8,239.78 800.8,239.90 802.8,239.94 804.8,239.92 806.8,239.87 808.8,239.81 810.8,239.74 812.8,239.66 814.8,239.57 816.8,239.46 818.8,239.33 820.8,239.18 822.8,239.01 824.8,238.84 826.8,238.67 828.8,238.51 830.8,238.37 832.8,238.26 834.8,238.19 836.8,238.17 838.8,238.21 840.8,238.30 842.8,238.45 844.8,238.64 846.8,238.87 848.8,239.12 850.8,239.42 852.8,239.77 854.8,240.17 856.8,240.63 858.8,241.12 860.8,241.62 862.8,242.10 864.8,242.56 866.8,242.96 868.8,243.33 870.8,243.66 872.8,243.97 874.8,244.27 876.8,244.55 878.8,244.83 880.8,245.10 882.8,245.37 884.8,245.65 886.8,245.94 888.8,246.23 890.8,246.53 892.8,246.84 894.8,247.16 896.8,247.48 898.8,247.80 900.8,248.13 902.8,248.45 904.8,248.78 906.8,249.11 908.8,249.43 910.8,249.75 912.8,250.07 914.8,250.38 916.8,250.69 918.8,251.00 920.8,251.31 922.8,251.62 924.8,251.93 926.8,252.24 928.8,252.55 930.8,252.86 932.8,253.16 934.8,253.46 936.8,253.75 938.8,254.03 940.8,254.30 942.8,254.55 944.8,254.78 946.8,255.00 948.8,255.21 950.8,255.41 952.8,255.60 954.8,255.79 956.8,255.98 958.8,256.15 960.8,256.30 962.8,256.43 964.8,256.54 966.8,256.62 968.8,256.67 970.8,256.69 972.8,256.71 974.8,256.72 976.8,256.72 978.8,256.73 980.8,256.73 982.8,256.73 984.8,256.74 986.8,256.74 988.8,256.74 990.8,256.74 992.8,256.74 994.8,256.74 996.8,256.74 998.8,256.74 1000.8,256.74 1002.8,256.74 1004.8,256.74 1006.8,256.74 1008.8,256.74 1010.8,256.74 1012.8,256.74 1014.8,256.74 1016.8,256.74 1018.8,256.74 1020.8,256.74 1022.8,256.74 1024.8,256.74 1026.8,256.74 1028.8,256.74 1030.8,256.74 1032.8,256.74 1034.8,256.74 1036.8,256.74 1038.8,256.74 1040.8,256.74 1042.8,256.74 1044.8,256.74 1046.8,256.74 1048.8,256.74 1050.8,256.74 1052.8,256.74 1054.8,256.74 1056.8,256.74 1058.8,256.74 1060.8,256.74 1062.8,256.74 1064.8,256.74 1066.8,256.74 1068.8,256.74 1070.8,256.74 1072.8,256.74 1074.8,256.74 1076.8,256.74 1078.8,256.74 1080.8,256.74 1082.8,256.74 1084.8,256.74 1086.8,256.74 1088.8,256.74 1090.8,256.74 1092.8,256.74 1094.8,256.74 1096.8,256.74 1098.8,256.74 1100.8,256.74 1102.8,256.74 1104.8,256.74 1106.8,256.74 1108.8,256.74 1110.8,256.74 1112.8,256.74 1114.8,256.74 1116.8,256.74 1118.8,256.74 1120.8,256.74 1122.8,256.74 1124.8,256.74 1126.8,256.74 1128.8,256.74 1130.8,256.74 1132.8,256.74 1134.8,256.74 1136.8,256.74 1138.8,256.74 1140.8,256.74 1142.8,256.74 1144.8,256.74 1146.8,256.74 1148.8,256.74 1150.8,256.74 1152.8,256.74 1154.8,256.74 1156.8,256.74 1158.8,256.74 1160.8,256.74 1162.8,256.74 1164.8,256.74 1166.8,256.74 1168.8,256.74 1170.8,256.74 1172.8,256.74 1174.8,256.74 1176.8,256.74 1178.8,256.74 1180.8,256.74 1182.8,256.74 1184.8,256.74 1186.8,256.74 1188.8,256.74 1190.8,256.74 1192.8,256.74 1194.8,256.74 1196.8,256.74 1198.8,256.74 1200.8,256.74 1202.8,256.74 1204.8,256.74 1206.8,256.74 1208.8,256.74 1210.8,256.74 1212.8,256.74 1214.8,256.74 1216.8,256.74 1218.8,256.74 1220.8,256.74 1222.8,256.74 1224.8,256.74 1226.8,256.74 1228.8,256.74 1230.8,256.74 1232.8,256.74 1234.8,256.74 1236.8,256.74 1238.8,256.74 1240.8,256.74 1242.8,256.74 1244.8,256.74 1246.8,256.74 1248.8,256.74 1250.8,256.74 1252.8,256.74 1254.8,256.74 1256.8,256.74 1258.8,256.74 1260.8,256.74 1262.8,256.74 1264.8,256.74 1266.8,256.74 1268.8,256.74 1270.8,256.74 1272.8,256.74 1274.8,256.74 1276.8,256.74 1278.8,256.74 1280.8,256.74 1282.8,256.74 1284.8,256.74 1286.8,256.74 1288.8,256.74 1290.8,256.74 1292.8,256.74 1294.8,256.74 1296.8,256.74 1297.3,256.74 1297.3,256.74" fill="rgb(242,92,224)" fill-opacity="0.7"/>
<path d="M574 256.74V246.10M722.2 256.74V225.90M850.6 256.74V239.33" stroke="#000" stroke-width="2.8" fill="none"/>
<polyline points="410.8,256.74 412.8,256.74 414.8,256.74 416.8,256.74 418.8,256.73 420.8,256.72 422.8,256.70 424.8,256.67 426.8,256.63 428.8,256.57 430.8,256.51 432.8,256.44 434.8,256.37 436.8,256.30 438.8,256.24 440.8,256.17 442.8,256.11 444.8,256.05 446.8,255.98 448.8,255.92 450.8,255.85 452.8,255.79 454.8,255.72 456.8,255.65 458.8,255.57 460.8,255.49 462.8,255.41 464.8,255.32 466.8,255.23 468.8,255.13 470.8,255.02 472.8,254.90 474.8,254.78 476.8,254.64 478.8,254.49 480.8,254.33 482.8,254.17 484.8,253.99 486.8,253.80 488.8,253.60 490.8,253.39 492.8,253.16 494.8,252.90 496.8,252.62 498.8,252.32 500.8,252.00 502.8,251.67 504.8,251.32 506.8,250.96 508.8,250.59 510.8,250.19 512.8,249.79 514.8,249.38 516.8,248.98 518.8,248.61 520.8,248.26 522.8,247.94 524.8,247.65 526.8,247.37 528.8,247.11 530.8,246.88 532.8,246.66 534.8,246.47 536.8,246.29 538.8,246.13 540.8,245.99 542.8,245.85 544.8,245.74 546.8,245.64 548.8,245.58 550.8,245.54 552.8,245.54 554.8,245.56 556.8,245.61 558.8,245.67 560.8,245.74 562.8,245.81 564.8,245.88 566.8,245.95 568.8,246.01 570.8,246.05 572.8,246.07 574.8,246.08 576.8,246.07 578.8,246.05 580.8,246.01 582.8,245.96 584.8,245.91 586.8,245.84 588.8,245.76 590.8,245.65 592.8,245.50 594.8,245.31 596.8,245.08 598.8,244.81 600.8,244.50 602.8,244.17 604.8,243.80 606.8,243.40 608.8,242.95 610.8,242.43 612.8,241.80 614.8,241.08 616.8,240.25 618.8,239.35 620.8,238.41 622.8,237.44 624.8,236.46 626.8,235.48 628.8,234.48 630.8,233.46 632.8,232.42 634.8,231.40 636.8,230.41 638.8,229.49 640.8,228.63 642.8,227.84 644.8,227.10 646.8,226.41 648.8,225.77 650.8,225.18 652.8,224.65 654.8,224.18 656.8,223.78 658.8,223.45 660.8,223.21 662.8,223.04 664.8,222.95 666.8,222.97 668.8,223.11 670.8,223.40 672.8,223.81 674.8,224.31 676.8,224.86 678.8,225.44 680.8,226.04 682.8,226.65 684.8,227.26 686.8,227.84 688.8,228.40 690.8,228.90 692.8,229.35 694.8,229.69 696.8,229.92 698.8,230.04 700.8,230.07 702.8,230.04 704.8,229.94 706.8,229.73 708.8,229.40 710.8,228.99 712.8,228.52 714.8,228.03 716.8,227.50 718.8,226.92 720.8,226.28 722.8,225.58 724.8,224.83 726.8,224.08 728.8,223.37 730.8,222.73 732.8,222.15 734.8,221.62 736.8,221.14 738.8,220.74 740.8,220.45 742.8,220.30 744.8,220.24 746.8,220.25 748.8,220.34 750.8,220.56 752.8,220.94 754.8,221.52 756.8,222.28 758.8,223.21 760.8,224.30 762.8,225.46 764.8,226.63 766.8,227.78 768.8,228.88 770.8,229.91 772.8,230.88 774.8,231.80 776.8,232.67 778.8,233.50 780.8,234.28 782.8,235.04 784.8,235.77 786.8,236.49 788.8,237.22 790.8,237.92 792.8,238.56 794.8,239.11 796.8,239.52 798.8,239.78 800.8,239.90 802.8,239.94 804.8,239.92 806.8,239.87 808.8,239.81 810.8,239.74 812.8,239.66 814.8,239.57 816.8,239.46 818.8,239.33 820.8,239.18 822.8,239.01 824.8,238.84 826.8,238.67 828.8,238.51 830.8,238.37 832.8,238.26 834.8,238.19 836.8,238.17 838.8,238.21 840.8,238.30 842.8,238.45 844.8,238.64 846.8,238.87 848.8,239.12 850.8,239.42 852.8,239.77 854.8,240.17 856.8,240.63 858.8,241.12 860.8,241.62 862.8,242.10 864.8,242.56 866.8,242.96 868.8,243.33 870.8,243.66 872.8,243.97 874.8,244.27 876.8,244.55 878.8,244.83 880.8,245.10 882.8,245.37 884.8,245.65 886.8,245.94 888.8,246.23 890.8,246.53 892.8,246.84 894.8,247.16 896.8,247.48 898.8,247.80 900.8,248.13 902.8,248.45 904.8,248.78 906.8,249.11 908.8,249.43 910.8,249.75 912.8,250.07 914.8,250.38 916.8,250.69 918.8,251.00 920.8,251.31 922.8,251.62 924.8,251.93 926.8,252.24 928.8,252.55 930.8,252.86 932.8,253.16 934.8,253.46 936.8,253.75 938.8,254.03 940.8,254.30 942.8,254.55 944.8,254.78 946.8,255.00 948.8,255.21 950.8,255.41 952.8,255.60 954.8,255.79 956.8,255.98 958.8,256.15 960.8,256.30 962.8,256.43 964.8,256.54 966.8,256.62 968.8,256.67 970.8,256.69 972.8,256.71 974.8,256.72 976.8,256.72 978.8,256.73 980.8,256.73 982.8,256.73 984.8,256.74 986.8,256.74 988.8,256.74 990.8,256.74 992.8,256.74 994.8,256.74 996.8,256.74 998.8,256.74 1000.8,256.74 1002.8,256.74 1004.8,256.74 1006.8,256.74 1008.8,256.74 1010.8,256.74 1012.8,256.74 1014.8,256.74 1016.8,256.74 1018.8,256.74 1020.8,256.74 1022.8,256.74 1024.8,256.74 1026.8,256.74 1028.8,256.74 1030.8,256.74 1032.8,256.74 1034.8,256.74 1036.8,256.74 1038.8,256.74 1040.8,256.74 1042.8,256.74 1044.8,256.74 1046.8,256.74 1048.8,256.74 1050.8,256.74 1052.8,256.74 1054.8,256.74 1056.8,256.74 1058.8,256.74 1060.8,256.74 1062.8,256.74 1064.8,256.74 1066.8,256.74 1068.8,256.74 1070.8,256.74 1072.8,256.74 1074.8,256.74 1076.8,256.74 1078.8,256.74 1080.8,256.74 1082.8,256.74 1084.8,256.74 1086.8,256.74 1088.8,256.74 1090.8,256.74 1092.8,256.74 1094.8,256.74 1096.8,256.74 1098.8,256.74 1100.8,256.74 1102.8,256.74 1104.8,256.74 1106.8,256.74 1108.8,256.74 1110.8,256.74 1112.8,256.74 1114.8,256.74 1116.8,256.74 1118.8,256.74 1120.8,256.74 1122.8,256.74 1124.8,256.74 1126.8,256.74 1128.8,256.74 1130.8,256.74 1132.8,256.74 1134.8,256.74 1136.8,256.74 1138.8,256.74 1140.8,256.74 1142.8,256.74 1144.8,256.74 1146.8,256.74 1148.8,256.74 1150.8,256.74 1152.8,256.74 1154.8,256.74 1156.8,256.74 1158.8,256.74 1160.8,256.74 1162.8,256.74 1164.8,256.74 1166.8,256.74 1168.8,256.74 1170.8,256.74 1172.8,256.74 1174.8,256.74 1176.8,256.74 1178.8,256.74 1180.8,256.74 1182.8,256.74 1184.8,256.74 1186.8,256.74 1188.8,256.74 1190.8,256.74 1192.8,256.74 1194.8,256.74 1196.8,256.74 1198.8,256.74 1200.8,256.74 1202.8,256.74 1204.8,256.74 1206.8,256.74 1208.8,256.74 1210.8,256.74 1212.8,256.74 1214.8,256.74 1216.8,256.74 1218.8,256.74 1220.8,256.74 1222.8,256.74 1224.8,256.74 1226.8,256.74 1228.8,256.74 1230.8,256.74 1232.8,256.74 1234.8,256.74 1236.8,256.74 1238.8,256.74 1240.8,256.74 1242.8,256.74 1244.8,256.74 1246.8,256.74 1248.8,256.74 1250.8,256.74 1252.8,256.74 1254.8,256.74 1256.8,256.74 1258.8,256.74 1260.8,256.74 1262.8,256.74 1264.8,256.74 1266.8,256.74 1268.8,256.74 1270.8,256.74 1272.8,256.74 1274.8,256.74 1276.8,256.74 1278.8,256.74 1280.8,256.74 1282.8,256.74 1284.8,256.74 1286.8,256.74 1288.8,256.74 1290.8,256.74 1292.8,256.74 1294.8,256.74 1296.8,256.74 1297.3,256.74" stroke="#000" stroke-width="2.8" fill="none" stroke-linecap="round" stroke-linejoin="round"/>
<polygon points="410.8,341.81 410.8,341.81 412.8,341.81 414.8,341.81 416.8,341.81 418.8,341.81 420.8,341.81 422.8,341.81 424.8,341.81 426.8,341.81 428.8,341.81 430.8,341.81 432.8,341.81 434.8,341.81 436.8,341.81 438.8,341.81 440.8,341.81 442.8,341.81 444.8,341.81 446.8,341.81 448.8,341.81 450.8,341.81 452.8,341.81 454.8,341.80 456.8,341.80 458.8,341.79 460.8,341.78 462.8,341.77 464.8,341.76 466.8,341.75 468.8,341.73 470.8,341.72 472.8,341.70 474.8,341.68 476.8,341.66 478.8,341.64 480.8,341.61 482.8,341.59 484.8,341.56 486.8,341.53 488.8,341.50 490.8,341.46 492.8,341.42 494.8,341.37 496.8,341.31 498.8,341.21 500.8,341.10 502.8,340.95 504.8,340.78 506.8,340.59 508.8,340.38 510.8,340.16 512.8,339.92 514.8,339.66 516.8,339.39 518.8,339.08 520.8,338.72 522.8,338.32 524.8,337.88 526.8,337.39 528.8,336.89 530.8,336.37 532.8,335.85 534.8,335.33 536.8,334.82 538.8,334.34 540.8,333.87 542.8,333.41 544.8,332.97 546.8,332.52 548.8,332.07 550.8,331.63 552.8,331.18 554.8,330.74 556.8,330.29 558.8,329.83 560.8,329.38 562.8,328.92 564.8,328.46 566.8,328.00 568.8,327.54 570.8,327.07 572.8,326.60 574.8,326.13 576.8,325.64 578.8,325.16 580.8,324.68 582.8,324.20 584.8,323.72 586.8,323.24 588.8,322.78 590.8,322.32 592.8,321.87 594.8,321.44 596.8,321.02 598.8,320.62 600.8,320.23 602.8,319.86 604.8,319.49 606.8,319.13 608.8,318.78 610.8,318.42 612.8,318.06 614.8,317.70 616.8,317.34 618.8,316.98 620.8,316.63 622.8,316.27 624.8,315.90 626.8,315.53 628.8,315.14 630.8,314.73 632.8,314.30 634.8,313.85 636.8,313.38 638.8,312.88 640.8,312.35 642.8,311.81 644.8,311.25 646.8,310.66 648.8,310.05 650.8,309.40 652.8,308.74 654.8,308.08 656.8,307.44 658.8,306.84 660.8,306.27 662.8,305.73 664.8,305.22 666.8,304.74 668.8,304.32 670.8,303.96 672.8,303.67 674.8,303.45 676.8,303.31 678.8,303.24 680.8,303.28 682.8,303.45 684.8,303.76 686.8,304.17 688.8,304.67 690.8,305.21 692.8,305.77 694.8,306.35 696.8,306.94 698.8,307.49 700.8,307.98 702.8,308.41 704.8,308.77 706.8,309.10 708.8,309.42 710.8,309.74 712.8,310.08 714.8,310.45 716.8,310.84 718.8,311.22 720.8,311.57 722.8,311.90 724.8,312.24 726.8,312.65 728.8,313.20 730.8,313.89 732.8,314.70 734.8,315.59 736.8,316.53 738.8,317.52 740.8,318.56 742.8,319.65 744.8,320.80 746.8,321.99 748.8,323.18 750.8,324.35 752.8,325.49 754.8,326.58 756.8,327.60 758.8,328.54 760.8,329.40 762.8,330.18 764.8,330.90 766.8,331.56 768.8,332.17 770.8,332.72 772.8,333.22 774.8,333.68 776.8,334.08 778.8,334.42 780.8,334.70 782.8,334.92 784.8,335.11 786.8,335.27 788.8,335.41 790.8,335.53 792.8,335.61 794.8,335.65 796.8,335.66 798.8,335.64 800.8,335.58 802.8,335.47 804.8,335.31 806.8,335.10 808.8,334.83 810.8,334.52 812.8,334.19 814.8,333.85 816.8,333.50 818.8,333.17 820.8,332.84 822.8,332.51 824.8,332.17 826.8,331.84 828.8,331.52 830.8,331.21 832.8,330.91 834.8,330.64 836.8,330.39 838.8,330.18 840.8,330.01 842.8,329.88 844.8,329.79 846.8,329.74 848.8,329.72 850.8,329.71 852.8,329.72 854.8,329.73 856.8,329.74 858.8,329.75 860.8,329.77 862.8,329.78 864.8,329.80 866.8,329.82 868.8,329.84 870.8,329.86 872.8,329.88 874.8,329.90 876.8,329.92 878.8,329.93 880.8,329.95 882.8,329.96 884.8,329.97 886.8,329.98 888.8,329.99 890.8,329.99 892.8,329.97 894.8,329.93 896.8,329.87 898.8,329.77 900.8,329.64 902.8,329.49 904.8,329.31 906.8,329.12 908.8,328.91 910.8,328.70 912.8,328.48 914.8,328.26 916.8,328.05 918.8,327.84 920.8,327.65 922.8,327.48 924.8,327.33 926.8,327.21 928.8,327.13 930.8,327.09 932.8,327.14 934.8,327.29 936.8,327.59 938.8,328.01 940.8,328.56 942.8,329.20 944.8,329.90 946.8,330.64 948.8,331.37 950.8,332.08 952.8,332.75 954.8,333.39 956.8,334.02 958.8,334.66 960.8,335.31 962.8,335.96 964.8,336.62 966.8,337.26 968.8,337.88 970.8,338.46 972.8,338.99 974.8,339.46 976.8,339.85 978.8,340.18 980.8,340.43 982.8,340.63 984.8,340.80 986.8,340.95 988.8,341.09 990.8,341.22 992.8,341.34 994.8,341.44 996.8,341.54 998.8,341.62 1000.8,341.69 1002.8,341.74 1004.8,341.77 1006.8,341.79 1008.8,341.80 1010.8,341.81 1012.8,341.81 1014.8,341.81 1016.8,341.81 1018.8,341.81 1020.8,341.81 1022.8,341.81 1024.8,341.81 1026.8,341.81 1028.8,341.81 1030.8,341.81 1032.8,341.81 1034.8,341.81 1036.8,341.81 1038.8,341.81 1040.8,341.81 1042.8,341.81 1044.8,341.81 1046.8,341.80 1048.8,341.79 1050.8,341.76 1052.8,341.71 1054.8,341.65 1056.8,341.56 1058.8,341.47 1060.8,341.36 1062.8,341.24 1064.8,341.12 1066.8,341.00 1068.8,340.87 1070.8,340.75 1072.8,340.63 1074.8,340.53 1076.8,340.43 1078.8,340.35 1080.8,340.29 1082.8,340.25 1084.8,340.22 1086.8,340.22 1088.8,340.24 1090.8,340.26 1092.8,340.30 1094.8,340.35 1096.8,340.41 1098.8,340.48 1100.8,340.55 1102.8,340.63 1104.8,340.71 1106.8,340.80 1108.8,340.88 1110.8,340.97 1112.8,341.05 1114.8,341.13 1116.8,341.20 1118.8,341.27 1120.8,341.34 1122.8,341.39 1124.8,341.44 1126.8,341.47 1128.8,341.50 1130.8,341.52 1132.8,341.54 1134.8,341.56 1136.8,341.58 1138.8,341.60 1140.8,341.62 1142.8,341.63 1144.8,341.65 1146.8,341.66 1148.8,341.68 1150.8,341.69 1152.8,341.71 1154.8,341.72 1156.8,341.73 1158.8,341.74 1160.8,341.75 1162.8,341.76 1164.8,341.77 1166.8,341.78 1168.8,341.79 1170.8,341.79 1172.8,341.80 1174.8,341.80 1176.8,341.80 1178.8,341.80 1180.8,341.80 1182.8,341.78 1184.8,341.74 1186.8,341.67 1188.8,341.57 1190.8,341.45 1192.8,341.31 1194.8,341.15 1196.8,340.97 1198.8,340.77 1200.8,340.57 1202.8,340.36 1204.8,340.15 1206.8,339.94 1208.8,339.73 1210.8,339.53 1212.8,339.33 1214.8,339.16 1216.8,338.99 1218.8,338.85 1220.8,338.73 1222.8,338.64 1224.8,338.57 1226.8,338.54 1228.8,338.55 1230.8,338.59 1232.8,338.66 1234.8,338.76 1236.8,338.89 1238.8,339.04 1240.8,339.22 1242.8,339.41 1244.8,339.61 1246.8,339.83 1248.8,340.04 1250.8,340.27 1252.8,340.48 1254.8,340.70 1256.8,340.90 1258.8,341.09 1260.8,341.27 1262.8,341.42 1264.8,341.55 1266.8,341.65 1268.8,341.73 1270.8,341.77 1272.8,341.80 1274.8,341.81 1276.8,341.81 1278.8,341.81 1280.8,341.81 1282.8,341.81 1284.8,341.81 1286.8,341.81 1288.8,341.81 1290.8,341.81 1292.8,341.81 1294.8,341.81 1296.8,341.81 1297.3,341.81 1297.3,341.81" fill="rgb(242,92,224)" fill-opacity="0.7"/>
<path d="M598.1 341.81V320.74M693.2 341.81V305.85M925.5 341.81V327.25" stroke="#000" stroke-width="2.8" fill="none"/>
<polyline points="410.8,341.81 412.8,341.81 414.8,341.81 416.8,341.81 418.8,341.81 420.8,341.81 422.8,341.81 424.8,341.81 426.8,341.81 428.8,341.81 430.8,341.81 432.8,341.81 434.8,341.81 436.8,341.81 438.8,341.81 440.8,341.81 442.8,341.81 444.8,341.81 446.8,341.81 448.8,341.81 450.8,341.81 452.8,341.81 454.8,341.80 456.8,341.80 458.8,341.79 460.8,341.78 462.8,341.77 464.8,341.76 466.8,341.75 468.8,341.73 470.8,341.72 472.8,341.70 474.8,341.68 476.8,341.66 478.8,341.64 480.8,341.61 482.8,341.59 484.8,341.56 486.8,341.53 488.8,341.50 490.8,341.46 492.8,341.42 494.8,341.37 496.8,341.31 498.8,341.21 500.8,341.10 502.8,340.95 504.8,340.78 506.8,340.59 508.8,340.38 510.8,340.16 512.8,339.92 514.8,339.66 516.8,339.39 518.8,339.08 520.8,338.72 522.8,338.32 524.8,337.88 526.8,337.39 528.8,336.89 530.8,336.37 532.8,335.85 534.8,335.33 536.8,334.82 538.8,334.34 540.8,333.87 542.8,333.41 544.8,332.97 546.8,332.52 548.8,332.07 550.8,331.63 552.8,331.18 554.8,330.74 556.8,330.29 558.8,329.83 560.8,329.38 562.8,328.92 564.8,328.46 566.8,328.00 568.8,327.54 570.8,327.07 572.8,326.60 574.8,326.13 576.8,325.64 578.8,325.16 580.8,324.68 582.8,324.20 584.8,323.72 586.8,323.24 588.8,322.78 590.8,322.32 592.8,321.87 594.8,321.44 596.8,321.02 598.8,320.62 600.8,320.23 602.8,319.86 604.8,319.49 606.8,319.13 608.8,318.78 610.8,318.42 612.8,318.06 614.8,317.70 616.8,317.34 618.8,316.98 620.8,316.63 622.8,316.27 624.8,315.90 626.8,315.53 628.8,315.14 630.8,314.73 632.8,314.30 634.8,313.85 636.8,313.38 638.8,312.88 640.8,312.35 642.8,311.81 644.8,311.25 646.8,310.66 648.8,310.05 650.8,309.40 652.8,308.74 654.8,308.08 656.8,307.44 658.8,306.84 660.8,306.27 662.8,305.73 664.8,305.22 666.8,304.74 668.8,304.32 670.8,303.96 672.8,303.67 674.8,303.45 676.8,303.31 678.8,303.24 680.8,303.28 682.8,303.45 684.8,303.76 686.8,304.17 688.8,304.67 690.8,305.21 692.8,305.77 694.8,306.35 696.8,306.94 698.8,307.49 700.8,307.98 702.8,308.41 704.8,308.77 706.8,309.10 708.8,309.42 710.8,309.74 712.8,310.08 714.8,310.45 716.8,310.84 718.8,311.22 720.8,311.57 722.8,311.90 724.8,312.24 726.8,312.65 728.8,313.20 730.8,313.89 732.8,314.70 734.8,315.59 736.8,316.53 738.8,317.52 740.8,318.56 742.8,319.65 744.8,320.80 746.8,321.99 748.8,323.18 750.8,324.35 752.8,325.49 754.8,326.58 756.8,327.60 758.8,328.54 760.8,329.40 762.8,330.18 764.8,330.90 766.8,331.56 768.8,332.17 770.8,332.72 772.8,333.22 774.8,333.68 776.8,334.08 778.8,334.42 780.8,334.70 782.8,334.92 784.8,335.11 786.8,335.27 788.8,335.41 790.8,335.53 792.8,335.61 794.8,335.65 796.8,335.66 798.8,335.64 800.8,335.58 802.8,335.47 804.8,335.31 806.8,335.10 808.8,334.83 810.8,334.52 812.8,334.19 814.8,333.85 816.8,333.50 818.8,333.17 820.8,332.84 822.8,332.51 824.8,332.17 826.8,331.84 828.8,331.52 830.8,331.21 832.8,330.91 834.8,330.64 836.8,330.39 838.8,330.18 840.8,330.01 842.8,329.88 844.8,329.79 846.8,329.74 848.8,329.72 850.8,329.71 852.8,329.72 854.8,329.73 856.8,329.74 858.8,329.75 860.8,329.77 862.8,329.78 864.8,329.80 866.8,329.82 868.8,329.84 870.8,329.86 872.8,329.88 874.8,329.90 876.8,329.92 878.8,329.93 880.8,329.95 882.8,329.96 884.8,329.97 886.8,329.98 888.8,329.99 890.8,329.99 892.8,329.97 894.8,329.93 896.8,329.87 898.8,329.77 900.8,329.64 902.8,329.49 904.8,329.31 906.8,329.12 908.8,328.91 910.8,328.70 912.8,328.48 914.8,328.26 916.8,328.05 918.8,327.84 920.8,327.65 922.8,327.48 924.8,327.33 926.8,327.21 928.8,327.13 930.8,327.09 932.8,327.14 934.8,327.29 936.8,327.59 938.8,328.01 940.8,328.56 942.8,329.20 944.8,329.90 946.8,330.64 948.8,331.37 950.8,332.08 952.8,332.75 954.8,333.39 956.8,334.02 958.8,334.66 960.8,335.31 962.8,335.96 964.8,336.62 966.8,337.26 968.8,337.88 970.8,338.46 972.8,338.99 974.8,339.46 976.8,339.85 978.8,340.18 980.8,340.43 982.8,340.63 984.8,340.80 986.8,340.95 988.8,341.09 990.8,341.22 992.8,341.34 994.8,341.44 996.8,341.54 998.8,341.62 1000.8,341.69 1002.8,341.74 1004.8,341.77 1006.8,341.79 1008.8,341.80 1010.8,341.81 1012.8,341.81 1014.8,341.81 1016.8,341.81 1018.8,341.81 1020.8,341.81 1022.8,341.81 1024.8,341.81 1026.8,341.81 1028.8,341.81 1030.8,341.81 1032.8,341.81 1034.8,341.81 1036.8,341.81 1038.8,341.81 1040.8,341.81 1042.8,341.81 1044.8,341.81 1046.8,341.80 1048.8,341.79 1050.8,341.76 1052.8,341.71 1054.8,341.65 1056.8,341.56 1058.8,341.47 1060.8,341.36 1062.8,341.24 1064.8,341.12 1066.8,341.00 1068.8,340.87 1070.8,340.75 1072.8,340.63 1074.8,340.53 1076.8,340.43 1078.8,340.35 1080.8,340.29 1082.8,340.25 1084.8,340.22 1086.8,340.22 1088.8,340.24 1090.8,340.26 1092.8,340.30 1094.8,340.35 1096.8,340.41 1098.8,340.48 1100.8,340.55 1102.8,340.63 1104.8,340.71 1106.8,340.80 1108.8,340.88 1110.8,340.97 1112.8,341.05 1114.8,341.13 1116.8,341.20 1118.8,341.27 1120.8,341.34 1122.8,341.39 1124.8,341.44 1126.8,341.47 1128.8,341.50 1130.8,341.52 1132.8,341.54 1134.8,341.56 1136.8,341.58 1138.8,341.60 1140.8,341.62 1142.8,341.63 1144.8,341.65 1146.8,341.66 1148.8,341.68 1150.8,341.69 1152.8,341.71 1154.8,341.72 1156.8,341.73 1158.8,341.74 1160.8,341.75 1162.8,341.76 1164.8,341.77 1166.8,341.78 1168.8,341.79 1170.8,341.79 1172.8,341.80 1174.8,341.80 1176.8,341.80 1178.8,341.80 1180.8,341.80 1182.8,341.78 1184.8,341.74 1186.8,341.67 1188.8,341.57 1190.8,341.45 1192.8,341.31 1194.8,341.15 1196.8,340.97 1198.8,340.77 1200.8,340.57 1202.8,340.36 1204.8,340.15 1206.8,339.94 1208.8,339.73 1210.8,339.53 1212.8,339.33 1214.8,339.16 1216.8,338.99 1218.8,338.85 1220.8,338.73 1222.8,338.64 1224.8,338.57 1226.8,338.54 1228.8,338.55 1230.8,338.59 1232.8,338.66 1234.8,338.76 1236.8,338.89 1238.8,339.04 1240.8,339.22 1242.8,339.41 1244.8,339.61 1246.8,339.83 1248.8,340.04 1250.8,340.27 1252.8,340.48 1254.8,340.70 1256.8,340.90 1258.8,341.09 1260.8,341.27 1262.8,341.42 1264.8,341.55 1266.8,341.65 1268.8,341.73 1270.8,341.77 1272.8,341.80 1274.8,341.81 1276.8,341.81 1278.8,341.81 1280.8,341.81 1282.8,341.81 1284.8,341.81 1286.8,341.81 1288.8,341.81 1290.8,341.81 1292.8,341.81 1294.8,341.81 1296.8,341.81 1297.3,341.81" stroke="#000" stroke-width="2.8" fill="none" stroke-linecap="round" stroke-linejoin="round"/>
<polygon points="410.8,426.88 410.8,426.88 412.8,426.88 414.8,426.88 416.8,426.88 418.8,426.88 420.8,426.88 422.8,426.88 424.8,426.88 426.8,426.88 428.8,426.88 430.8,426.88 432.8,426.88 434.8,426.88 436.8,426.88 438.8,426.88 440.8,426.88 442.8,426.88 444.8,426.88 446.8,426.88 448.8,426.88 450.8,426.88 452.8,426.88 454.8,426.88 456.8,426.88 458.8,426.88 460.8,426.88 462.8,426.88 464.8,426.88 466.8,426.88 468.8,426.88 470.8,426.88 472.8,426.88 474.8,426.88 476.8,426.88 478.8,426.88 480.8,426.88 482.8,426.88 484.8,426.87 486.8,426.87 488.8,426.86 490.8,426.85 492.8,426.84 494.8,426.82 496.8,426.81 498.8,426.79 500.8,426.77 502.8,426.75 504.8,426.72 506.8,426.70 508.8,426.67 510.8,426.64 512.8,426.60 514.8,426.55 516.8,426.47 518.8,426.38 520.8,426.26 522.8,426.13 524.8,425.97 526.8,425.80 528.8,425.61 530.8,425.40 532.8,425.15 534.8,424.86 536.8,424.54 538.8,424.18 540.8,423.81 542.8,423.42 544.8,423.03 546.8,422.64 548.8,422.26 550.8,421.87 552.8,421.48 554.8,421.08 556.8,420.67 558.8,420.25 560.8,419.82 562.8,419.39 564.8,418.95 566.8,418.50 568.8,418.03 570.8,417.56 572.8,417.08 574.8,416.58 576.8,416.06 578.8,415.52 580.8,414.95 582.8,414.36 584.8,413.73 586.8,413.07 588.8,412.38 590.8,411.65 592.8,410.87 594.8,410.05 596.8,409.19 598.8,408.31 600.8,407.41 602.8,406.52 604.8,405.64 606.8,404.77 608.8,403.91 610.8,403.03 612.8,402.14 614.8,401.21 616.8,400.23 618.8,399.19 620.8,398.08 622.8,396.90 624.8,395.69 626.8,394.49 628.8,393.31 630.8,392.19 632.8,391.10 634.8,390.06 636.8,389.08 638.8,388.16 640.8,387.30 642.8,386.50 644.8,385.75 646.8,385.05 648.8,384.41 650.8,383.85 652.8,383.36 654.8,382.94 656.8,382.57 658.8,382.24 660.8,381.95 662.8,381.73 664.8,381.57 666.8,381.49 668.8,381.48 670.8,381.54 672.8,381.64 674.8,381.78 676.8,381.95 678.8,382.17 680.8,382.47 682.8,382.86 684.8,383.37 686.8,384.00 688.8,384.71 690.8,385.48 692.8,386.28 694.8,387.10 696.8,387.96 698.8,388.86 700.8,389.79 702.8,390.72 704.8,391.66 706.8,392.57 708.8,393.49 710.8,394.39 712.8,395.29 714.8,396.13 716.8,396.87 718.8,397.48 720.8,397.96 722.8,398.30 724.8,398.56 726.8,398.79 728.8,399.01 730.8,399.25 732.8,399.52 734.8,399.81 736.8,400.10 738.8,400.37 740.8,400.58 742.8,400.75 744.8,400.87 746.8,400.95 748.8,401.01 750.8,401.07 752.8,401.11 754.8,401.16 756.8,401.22 758.8,401.30 760.8,401.40 762.8,401.55 764.8,401.75 766.8,402.00 768.8,402.31 770.8,402.65 772.8,403.04 774.8,403.47 776.8,403.95 778.8,404.49 780.8,405.09 782.8,405.73 784.8,406.40 786.8,407.10 788.8,407.82 790.8,408.58 792.8,409.36 794.8,410.17 796.8,410.97 798.8,411.78 800.8,412.59 802.8,413.40 804.8,414.20 806.8,414.98 808.8,415.72 810.8,416.40 812.8,417.02 814.8,417.59 816.8,418.12 818.8,418.59 820.8,419.01 822.8,419.35 824.8,419.62 826.8,419.83 828.8,420.00 830.8,420.13 832.8,420.24 834.8,420.32 836.8,420.36 838.8,420.36 840.8,420.34 842.8,420.30 844.8,420.23 846.8,420.16 848.8,420.07 850.8,419.98 852.8,419.88 854.8,419.78 856.8,419.67 858.8,419.56 860.8,419.43 862.8,419.30 864.8,419.15 866.8,419.01 868.8,418.87 870.8,418.75 872.8,418.64 874.8,418.55 876.8,418.47 878.8,418.40 880.8,418.34 882.8,418.29 884.8,418.24 886.8,418.19 888.8,418.16 890.8,418.13 892.8,418.12 894.8,418.12 896.8,418.14 898.8,418.19 900.8,418.25 902.8,418.33 904.8,418.44 906.8,418.56 908.8,418.69 910.8,418.85 912.8,419.01 914.8,419.18 916.8,419.37 918.8,419.56 920.8,419.76 922.8,419.96 924.8,420.16 926.8,420.37 928.8,420.57 930.8,420.77 932.8,420.97 934.8,421.16 936.8,421.36 938.8,421.55 940.8,421.75 942.8,421.96 944.8,422.18 946.8,422.41 948.8,422.64 950.8,422.88 952.8,423.13 954.8,423.37 956.8,423.62 958.8,423.86 960.8,424.10 962.8,424.33 964.8,424.56 966.8,424.77 968.8,424.98 970.8,425.17 972.8,425.34 974.8,425.50 976.8,425.64 978.8,425.78 980.8,425.90 982.8,426.03 984.8,426.15 986.8,426.26 988.8,426.37 990.8,426.48 992.8,426.57 994.8,426.66 996.8,426.73 998.8,426.79 1000.8,426.83 1002.8,426.86 1004.8,426.87 1006.8,426.88 1008.8,426.88 1010.8,426.88 1012.8,426.88 1014.8,426.88 1016.8,426.88 1018.8,426.88 1020.8,426.88 1022.8,426.88 1024.8,426.88 1026.8,426.88 1028.8,426.88 1030.8,426.88 1032.8,426.88 1034.8,426.88 1036.8,426.88 1038.8,426.88 1040.8,426.88 1042.8,426.88 1044.8,426.88 1046.8,426.88 1048.8,426.88 1050.8,426.88 1052.8,426.88 1054.8,426.88 1056.8,426.88 1058.8,426.88 1060.8,426.88 1062.8,426.88 1064.8,426.88 1066.8,426.88 1068.8,426.88 1070.8,426.88 1072.8,426.88 1074.8,426.88 1076.8,426.88 1078.8,426.88 1080.8,426.88 1082.8,426.88 1084.8,426.88 1086.8,426.88 1088.8,426.88 1090.8,426.88 1092.8,426.88 1094.8,426.88 1096.8,426.88 1098.8,426.88 1100.8,426.88 1102.8,426.88 1104.8,426.88 1106.8,426.88 1108.8,426.88 1110.8,426.88 1112.8,426.88 1114.8,426.88 1116.8,426.88 1118.8,426.88 1120.8,426.88 1122.8,426.88 1124.8,426.88 1126.8,426.88 1128.8,426.88 1130.8,426.88 1132.8,426.88 1134.8,426.88 1136.8,426.88 1138.8,426.88 1140.8,426.88 1142.8,426.88 1144.8,426.88 1146.8,426.88 1148.8,426.88 1150.8,426.88 1152.8,426.88 1154.8,426.88 1156.8,426.88 1158.8,426.88 1160.8,426.88 1162.8,426.88 1164.8,426.88 1166.8,426.88 1168.8,426.88 1170.8,426.88 1172.8,426.88 1174.8,426.88 1176.8,426.88 1178.8,426.88 1180.8,426.88 1182.8,426.88 1184.8,426.88 1186.8,426.88 1188.8,426.88 1190.8,426.88 1192.8,426.88 1194.8,426.88 1196.8,426.88 1198.8,426.88 1200.8,426.88 1202.8,426.88 1204.8,426.88 1206.8,426.88 1208.8,426.88 1210.8,426.88 1212.8,426.88 1214.8,426.88 1216.8,426.88 1218.8,426.88 1220.8,426.88 1222.8,426.88 1224.8,426.88 1226.8,426.88 1228.8,426.88 1230.8,426.88 1232.8,426.88 1234.8,426.88 1236.8,426.88 1238.8,426.88 1240.8,426.88 1242.8,426.88 1244.8,426.88 1246.8,426.88 1248.8,426.88 1250.8,426.88 1252.8,426.88 1254.8,426.88 1256.8,426.88 1258.8,426.88 1260.8,426.88 1262.8,426.88 1264.8,426.88 1266.8,426.88 1268.8,426.88 1270.8,426.88 1272.8,426.88 1274.8,426.88 1276.8,426.88 1278.8,426.88 1280.8,426.88 1282.8,426.88 1284.8,426.88 1286.8,426.88 1288.8,426.88 1290.8,426.88 1292.8,426.88 1294.8,426.88 1296.8,426.88 1297.3,426.88 1297.3,426.88" fill="rgb(59,192,197)" fill-opacity="0.7"/>
<path d="M618.7 426.88V399.34M690.5 426.88V385.34M856.4 426.88V419.70" stroke="#000" stroke-width="2.8" fill="none"/>
<polyline points="410.8,426.88 412.8,426.88 414.8,426.88 416.8,426.88 418.8,426.88 420.8,426.88 422.8,426.88 424.8,426.88 426.8,426.88 428.8,426.88 430.8,426.88 432.8,426.88 434.8,426.88 436.8,426.88 438.8,426.88 440.8,426.88 442.8,426.88 444.8,426.88 446.8,426.88 448.8,426.88 450.8,426.88 452.8,426.88 454.8,426.88 456.8,426.88 458.8,426.88 460.8,426.88 462.8,426.88 464.8,426.88 466.8,426.88 468.8,426.88 470.8,426.88 472.8,426.88 474.8,426.88 476.8,426.88 478.8,426.88 480.8,426.88 482.8,426.88 484.8,426.87 486.8,426.87 488.8,426.86 490.8,426.85 492.8,426.84 494.8,426.82 496.8,426.81 498.8,426.79 500.8,426.77 502.8,426.75 504.8,426.72 506.8,426.70 508.8,426.67 510.8,426.64 512.8,426.60 514.8,426.55 516.8,426.47 518.8,426.38 520.8,426.26 522.8,426.13 524.8,425.97 526.8,425.80 528.8,425.61 530.8,425.40 532.8,425.15 534.8,424.86 536.8,424.54 538.8,424.18 540.8,423.81 542.8,423.42 544.8,423.03 546.8,422.64 548.8,422.26 550.8,421.87 552.8,421.48 554.8,421.08 556.8,420.67 558.8,420.25 560.8,419.82 562.8,419.39 564.8,418.95 566.8,418.50 568.8,418.03 570.8,417.56 572.8,417.08 574.8,416.58 576.8,416.06 578.8,415.52 580.8,414.95 582.8,414.36 584.8,413.73 586.8,413.07 588.8,412.38 590.8,411.65 592.8,410.87 594.8,410.05 596.8,409.19 598.8,408.31 600.8,407.41 602.8,406.52 604.8,405.64 606.8,404.77 608.8,403.91 610.8,403.03 612.8,402.14 614.8,401.21 616.8,400.23 618.8,399.19 620.8,398.08 622.8,396.90 624.8,395.69 626.8,394.49 628.8,393.31 630.8,392.19 632.8,391.10 634.8,390.06 636.8,389.08 638.8,388.16 640.8,387.30 642.8,386.50 644.8,385.75 646.8,385.05 648.8,384.41 650.8,383.85 652.8,383.36 654.8,382.94 656.8,382.57 658.8,382.24 660.8,381.95 662.8,381.73 664.8,381.57 666.8,381.49 668.8,381.48 670.8,381.54 672.8,381.64 674.8,381.78 676.8,381.95 678.8,382.17 680.8,382.47 682.8,382.86 684.8,383.37 686.8,384.00 688.8,384.71 690.8,385.48 692.8,386.28 694.8,387.10 696.8,387.96 698.8,388.86 700.8,389.79 702.8,390.72 704.8,391.66 706.8,392.57 708.8,393.49 710.8,394.39 712.8,395.29 714.8,396.13 716.8,396.87 718.8,397.48 720.8,397.96 722.8,398.30 724.8,398.56 726.8,398.79 728.8,399.01 730.8,399.25 732.8,399.52 734.8,399.81 736.8,400.10 738.8,400.37 740.8,400.58 742.8,400.75 744.8,400.87 746.8,400.95 748.8,401.01 750.8,401.07 752.8,401.11 754.8,401.16 756.8,401.22 758.8,401.30 760.8,401.40 762.8,401.55 764.8,401.75 766.8,402.00 768.8,402.31 770.8,402.65 772.8,403.04 774.8,403.47 776.8,403.95 778.8,404.49 780.8,405.09 782.8,405.73 784.8,406.40 786.8,407.10 788.8,407.82 790.8,408.58 792.8,409.36 794.8,410.17 796.8,410.97 798.8,411.78 800.8,412.59 802.8,413.40 804.8,414.20 806.8,414.98 808.8,415.72 810.8,416.40 812.8,417.02 814.8,417.59 816.8,418.12 818.8,418.59 820.8,419.01 822.8,419.35 824.8,419.62 826.8,419.83 828.8,420.00 830.8,420.13 832.8,420.24 834.8,420.32 836.8,420.36 838.8,420.36 840.8,420.34 842.8,420.30 844.8,420.23 846.8,420.16 848.8,420.07 850.8,419.98 852.8,419.88 854.8,419.78 856.8,419.67 858.8,419.56 860.8,419.43 862.8,419.30 864.8,419.15 866.8,419.01 868.8,418.87 870.8,418.75 872.8,418.64 874.8,418.55 876.8,418.47 878.8,418.40 880.8,418.34 882.8,418.29 884.8,418.24 886.8,418.19 888.8,418.16 890.8,418.13 892.8,418.12 894.8,418.12 896.8,418.14 898.8,418.19 900.8,418.25 902.8,418.33 904.8,418.44 906.8,418.56 908.8,418.69 910.8,418.85 912.8,419.01 914.8,419.18 916.8,419.37 918.8,419.56 920.8,419.76 922.8,419.96 924.8,420.16 926.8,420.37 928.8,420.57 930.8,420.77 932.8,420.97 934.8,421.16 936.8,421.36 938.8,421.55 940.8,421.75 942.8,421.96 944.8,422.18 946.8,422.41 948.8,422.64 950.8,422.88 952.8,423.13 954.8,423.37 956.8,423.62 958.8,423.86 960.8,424.10 962.8,424.33 964.8,424.56 966.8,424.77 968.8,424.98 970.8,425.17 972.8,425.34 974.8,425.50 976.8,425.64 978.8,425.78 980.8,425.90 982.8,426.03 984.8,426.15 986.8,426.26 988.8,426.37 990.8,426.48 992.8,426.57 994.8,426.66 996.8,426.73 998.8,426.79 1000.8,426.83 1002.8,426.86 1004.8,426.87 1006.8,426.88 1008.8,426.88 1010.8,426.88 1012.8,426.88 1014.8,426.88 1016.8,426.88 1018.8,426.88 1020.8,426.88 1022.8,426.88 1024.8,426.88 1026.8,426.88 1028.8,426.88 1030.8,426.88 1032.8,426.88 1034.8,426.88 1036.8,426.88 1038.8,426.88 1040.8,426.88 1042.8,426.88 1044.8,426.88 1046.8,426.88 1048.8,426.88 1050.8,426.88 1052.8,426.88 1054.8,426.88 1056.8,426.88 1058.8,426.88 1060.8,426.88 1062.8,426.88 1064.8,426.88 1066.8,426.88 1068.8,426.88 1070.8,426.88 1072.8,426.88 1074.8,426.88 1076.8,426.88 1078.8,426.88 1080.8,426.88 1082.8,426.88 1084.8,426.88 1086.8,426.88 1088.8,426.88 1090.8,426.88 1092.8,426.88 1094.8,426.88 1096.8,426.88 1098.8,426.88 1100.8,426.88 1102.8,426.88 1104.8,426.88 1106.8,426.88 1108.8,426.88 1110.8,426.88 1112.8,426.88 1114.8,426.88 1116.8,426.88 1118.8,426.88 1120.8,426.88 1122.8,426.88 1124.8,426.88 1126.8,426.88 1128.8,426.88 1130.8,426.88 1132.8,426.88 1134.8,426.88 1136.8,426.88 1138.8,426.88 1140.8,426.88 1142.8,426.88 1144.8,426.88 1146.8,426.88 1148.8,426.88 1150.8,426.88 1152.8,426.88 1154.8,426.88 1156.8,426.88 1158.8,426.88 1160.8,426.88 1162.8,426.88 1164.8,426.88 1166.8,426.88 1168.8,426.88 1170.8,426.88 1172.8,426.88 1174.8,426.88 1176.8,426.88 1178.8,426.88 1180.8,426.88 1182.8,426.88 1184.8,426.88 1186.8,426.88 1188.8,426.88 1190.8,426.88 1192.8,426.88 1194.8,426.88 1196.8,426.88 1198.8,426.88 1200.8,426.88 1202.8,426.88 1204.8,426.88 1206.8,426.88 1208.8,426.88 1210.8,426.88 1212.8,426.88 1214.8,426.88 1216.8,426.88 1218.8,426.88 1220.8,426.88 1222.8,426.88 1224.8,426.88 1226.8,426.88 1228.8,426.88 1230.8,426.88 1232.8,426.88 1234.8,426.88 1236.8,426.88 1238.8,426.88 1240.8,426.88 1242.8,426.88 1244.8,426.88 1246.8,426.88 1248.8,426.88 1250.8,426.88 1252.8,426.88 1254.8,426.88 1256.8,426.88 1258.8,426.88 1260.8,426.88 1262.8,426.88 1264.8,426.88 1266.8,426.88 1268.8,426.88 1270.8,426.88 1272.8,426.88 1274.8,426.88 1276.8,426.88 1278.8,426.88 1280.8,426.88 1282.8,426.88 1284.8,426.88 1286.8,426.88 1288.8,426.88 1290.8,426.88 1292.8,426.88 1294.8,426.88 1296.8,426.88 1297.3,426.88" stroke="#000" stroke-width="2.8" fill="none" stroke-linecap="round" stroke-linejoin="round"/>
<polygon points="410.8,511.95 410.8,511.95 412.8,511.95 414.8,511.95 416.8,511.95 418.8,511.95 420.8,511.95 422.8,511.95 424.8,511.95 426.8,511.95 428.8,511.95 430.8,511.95 432.8,511.95 434.8,511.95 436.8,511.95 438.8,511.95 440.8,511.95 442.8,511.95 444.8,511.94 446.8,511.94 448.8,511.93 450.8,511.93 452.8,511.92 454.8,511.91 456.8,511.90 458.8,511.88 460.8,511.87 462.8,511.86 464.8,511.84 466.8,511.83 468.8,511.81 470.8,511.79 472.8,511.77 474.8,511.74 476.8,511.71 478.8,511.67 480.8,511.61 482.8,511.54 484.8,511.44 486.8,511.30 488.8,511.11 490.8,510.88 492.8,510.63 494.8,510.36 496.8,510.05 498.8,509.69 500.8,509.26 502.8,508.74 504.8,508.15 506.8,507.51 508.8,506.85 510.8,506.15 512.8,505.44 514.8,504.70 516.8,503.93 518.8,503.14 520.8,502.31 522.8,501.45 524.8,500.56 526.8,499.65 528.8,498.74 530.8,497.85 532.8,496.96 534.8,496.06 536.8,495.15 538.8,494.21 540.8,493.22 542.8,492.19 544.8,491.09 546.8,489.94 548.8,488.75 550.8,487.54 552.8,486.33 554.8,485.12 556.8,483.90 558.8,482.65 560.8,481.34 562.8,479.97 564.8,478.53 566.8,477.03 568.8,475.47 570.8,473.91 572.8,472.37 574.8,470.89 576.8,469.49 578.8,468.17 580.8,466.93 582.8,465.76 584.8,464.65 586.8,463.61 588.8,462.68 590.8,461.87 592.8,461.22 594.8,460.69 596.8,460.28 598.8,459.97 600.8,459.76 602.8,459.67 604.8,459.71 606.8,459.88 608.8,460.16 610.8,460.51 612.8,460.92 614.8,461.39 616.8,461.92 618.8,462.53 620.8,463.19 622.8,463.88 624.8,464.58 626.8,465.24 628.8,465.87 630.8,466.47 632.8,467.03 634.8,467.58 636.8,468.11 638.8,468.61 640.8,469.09 642.8,469.56 644.8,469.99 646.8,470.41 648.8,470.82 650.8,471.23 652.8,471.64 654.8,472.06 656.8,472.50 658.8,472.96 660.8,473.44 662.8,473.95 664.8,474.47 666.8,475.01 668.8,475.56 670.8,476.14 672.8,476.74 674.8,477.37 676.8,478.03 678.8,478.72 680.8,479.47 682.8,480.28 684.8,481.17 686.8,482.14 688.8,483.17 690.8,484.26 692.8,485.38 694.8,486.52 696.8,487.64 698.8,488.73 700.8,489.77 702.8,490.74 704.8,491.62 706.8,492.42 708.8,493.14 710.8,493.80 712.8,494.43 714.8,495.00 716.8,495.53 718.8,495.99 720.8,496.38 722.8,496.68 724.8,496.90 726.8,497.07 728.8,497.19 730.8,497.29 732.8,497.38 734.8,497.47 736.8,497.56 738.8,497.65 740.8,497.74 742.8,497.84 744.8,497.94 746.8,498.04 748.8,498.14 750.8,498.25 752.8,498.36 754.8,498.49 756.8,498.63 758.8,498.80 760.8,499.00 762.8,499.27 764.8,499.62 766.8,500.06 768.8,500.57 770.8,501.16 772.8,501.78 774.8,502.42 776.8,503.05 778.8,503.66 780.8,504.22 782.8,504.70 784.8,505.10 786.8,505.42 788.8,505.67 790.8,505.88 792.8,506.06 794.8,506.21 796.8,506.33 798.8,506.42 800.8,506.49 802.8,506.54 804.8,506.58 806.8,506.61 808.8,506.63 810.8,506.65 812.8,506.67 814.8,506.69 816.8,506.72 818.8,506.76 820.8,506.81 822.8,506.90 824.8,507.03 826.8,507.21 828.8,507.44 830.8,507.71 832.8,508.01 834.8,508.34 836.8,508.69 838.8,509.04 840.8,509.39 842.8,509.73 844.8,510.06 846.8,510.35 848.8,510.61 850.8,510.82 852.8,510.99 854.8,511.13 856.8,511.24 858.8,511.34 860.8,511.43 862.8,511.52 864.8,511.60 866.8,511.67 868.8,511.74 870.8,511.80 872.8,511.85 874.8,511.89 876.8,511.92 878.8,511.93 880.8,511.94 882.8,511.95 884.8,511.95 886.8,511.95 888.8,511.95 890.8,511.95 892.8,511.95 894.8,511.95 896.8,511.95 898.8,511.95 900.8,511.95 902.8,511.95 904.8,511.95 906.8,511.95 908.8,511.95 910.8,511.95 912.8,511.95 914.8,511.95 916.8,511.95 918.8,511.95 920.8,511.95 922.8,511.95 924.8,511.95 926.8,511.95 928.8,511.95 930.8,511.95 932.8,511.95 934.8,511.95 936.8,511.95 938.8,511.95 940.8,511.95 942.8,511.95 944.8,511.95 946.8,511.95 948.8,511.95 950.8,511.95 952.8,511.95 954.8,511.95 956.8,511.95 958.8,511.95 960.8,511.95 962.8,511.95 964.8,511.95 966.8,511.95 968.8,511.95 970.8,511.95 972.8,511.95 974.8,511.95 976.8,511.95 978.8,511.95 980.8,511.95 982.8,511.95 984.8,511.95 986.8,511.95 988.8,511.95 990.8,511.95 992.8,511.95 994.8,511.95 996.8,511.95 998.8,511.95 1000.8,511.95 1002.8,511.95 1004.8,511.95 1006.8,511.95 1008.8,511.95 1010.8,511.95 1012.8,511.95 1014.8,511.95 1016.8,511.95 1018.8,511.95 1020.8,511.95 1022.8,511.95 1024.8,511.95 1026.8,511.95 1028.8,511.95 1030.8,511.95 1032.8,511.95 1034.8,511.95 1036.8,511.95 1038.8,511.95 1040.8,511.95 1042.8,511.95 1044.8,511.95 1046.8,511.95 1048.8,511.95 1050.8,511.95 1052.8,511.95 1054.8,511.95 1056.8,511.95 1058.8,511.95 1060.8,511.95 1062.8,511.95 1064.8,511.95 1066.8,511.95 1068.8,511.95 1070.8,511.95 1072.8,511.95 1074.8,511.95 1076.8,511.95 1078.8,511.95 1080.8,511.95 1082.8,511.95 1084.8,511.95 1086.8,511.95 1088.8,511.95 1090.8,511.95 1092.8,511.95 1094.8,511.95 1096.8,511.95 1098.8,511.95 1100.8,511.95 1102.8,511.95 1104.8,511.95 1106.8,511.95 1108.8,511.95 1110.8,511.95 1112.8,511.95 1114.8,511.95 1116.8,511.95 1118.8,511.95 1120.8,511.95 1122.8,511.95 1124.8,511.95 1126.8,511.95 1128.8,511.95 1130.8,511.95 1132.8,511.95 1134.8,511.95 1136.8,511.95 1138.8,511.95 1140.8,511.95 1142.8,511.95 1144.8,511.95 1146.8,511.95 1148.8,511.95 1150.8,511.95 1152.8,511.95 1154.8,511.95 1156.8,511.95 1158.8,511.95 1160.8,511.95 1162.8,511.95 1164.8,511.95 1166.8,511.95 1168.8,511.95 1170.8,511.95 1172.8,511.95 1174.8,511.95 1176.8,511.95 1178.8,511.95 1180.8,511.95 1182.8,511.95 1184.8,511.95 1186.8,511.95 1188.8,511.95 1190.8,511.95 1192.8,511.95 1194.8,511.95 1196.8,511.95 1198.8,511.95 1200.8,511.95 1202.8,511.95 1204.8,511.95 1206.8,511.95 1208.8,511.95 1210.8,511.95 1212.8,511.95 1214.8,511.95 1216.8,511.95 1218.8,511.95 1220.8,511.95 1222.8,511.95 1224.8,511.95 1226.8,511.95 1228.8,511.95 1230.8,511.95 1232.8,511.95 1234.8,511.95 1236.8,511.95 1238.8,511.95 1240.8,511.95 1242.8,511.95 1244.8,511.95 1246.8,511.95 1248.8,511.95 1250.8,511.95 1252.8,511.95 1254.8,511.95 1256.8,511.95 1258.8,511.95 1260.8,511.95 1262.8,511.95 1264.8,511.95 1266.8,511.95 1268.8,511.95 1270.8,511.95 1272.8,511.95 1274.8,511.95 1276.8,511.95 1278.8,511.95 1280.8,511.95 1282.8,511.95 1284.8,511.95 1286.8,511.95 1288.8,511.95 1290.8,511.95 1292.8,511.95 1294.8,511.95 1296.8,511.95 1297.3,511.95 1297.3,511.95" fill="rgb(181,158,41)" fill-opacity="0.7"/>
<path d="M570.5 511.95V474.07M629.1 511.95V466.00M740 511.95V497.70" stroke="#000" stroke-width="2.8" fill="none"/>
<polyline points="410.8,511.95 412.8,511.95 414.8,511.95 416.8,511.95 418.8,511.95 420.8,511.95 422.8,511.95 424.8,511.95 426.8,511.95 428.8,511.95 430.8,511.95 432.8,511.95 434.8,511.95 436.8,511.95 438.8,511.95 440.8,511.95 442.8,511.95 444.8,511.94 446.8,511.94 448.8,511.93 450.8,511.93 452.8,511.92 454.8,511.91 456.8,511.90 458.8,511.88 460.8,511.87 462.8,511.86 464.8,511.84 466.8,511.83 468.8,511.81 470.8,511.79 472.8,511.77 474.8,511.74 476.8,511.71 478.8,511.67 480.8,511.61 482.8,511.54 484.8,511.44 486.8,511.30 488.8,511.11 490.8,510.88 492.8,510.63 494.8,510.36 496.8,510.05 498.8,509.69 500.8,509.26 502.8,508.74 504.8,508.15 506.8,507.51 508.8,506.85 510.8,506.15 512.8,505.44 514.8,504.70 516.8,503.93 518.8,503.14 520.8,502.31 522.8,501.45 524.8,500.56 526.8,499.65 528.8,498.74 530.8,497.85 532.8,496.96 534.8,496.06 536.8,495.15 538.8,494.21 540.8,493.22 542.8,492.19 544.8,491.09 546.8,489.94 548.8,488.75 550.8,487.54 552.8,486.33 554.8,485.12 556.8,483.90 558.8,482.65 560.8,481.34 562.8,479.97 564.8,478.53 566.8,477.03 568.8,475.47 570.8,473.91 572.8,472.37 574.8,470.89 576.8,469.49 578.8,468.17 580.8,466.93 582.8,465.76 584.8,464.65 586.8,463.61 588.8,462.68 590.8,461.87 592.8,461.22 594.8,460.69 596.8,460.28 598.8,459.97 600.8,459.76 602.8,459.67 604.8,459.71 606.8,459.88 608.8,460.16 610.8,460.51 612.8,460.92 614.8,461.39 616.8,461.92 618.8,462.53 620.8,463.19 622.8,463.88 624.8,464.58 626.8,465.24 628.8,465.87 630.8,466.47 632.8,467.03 634.8,467.58 636.8,468.11 638.8,468.61 640.8,469.09 642.8,469.56 644.8,469.99 646.8,470.41 648.8,470.82 650.8,471.23 652.8,471.64 654.8,472.06 656.8,472.50 658.8,472.96 660.8,473.44 662.8,473.95 664.8,474.47 666.8,475.01 668.8,475.56 670.8,476.14 672.8,476.74 674.8,477.37 676.8,478.03 678.8,478.72 680.8,479.47 682.8,480.28 684.8,481.17 686.8,482.14 688.8,483.17 690.8,484.26 692.8,485.38 694.8,486.52 696.8,487.64 698.8,488.73 700.8,489.77 702.8,490.74 704.8,491.62 706.8,492.42 708.8,493.14 710.8,493.80 712.8,494.43 714.8,495.00 716.8,495.53 718.8,495.99 720.8,496.38 722.8,496.68 724.8,496.90 726.8,497.07 728.8,497.19 730.8,497.29 732.8,497.38 734.8,497.47 736.8,497.56 738.8,497.65 740.8,497.74 742.8,497.84 744.8,497.94 746.8,498.04 748.8,498.14 750.8,498.25 752.8,498.36 754.8,498.49 756.8,498.63 758.8,498.80 760.8,499.00 762.8,499.27 764.8,499.62 766.8,500.06 768.8,500.57 770.8,501.16 772.8,501.78 774.8,502.42 776.8,503.05 778.8,503.66 780.8,504.22 782.8,504.70 784.8,505.10 786.8,505.42 788.8,505.67 790.8,505.88 792.8,506.06 794.8,506.21 796.8,506.33 798.8,506.42 800.8,506.49 802.8,506.54 804.8,506.58 806.8,506.61 808.8,506.63 810.8,506.65 812.8,506.67 814.8,506.69 816.8,506.72 818.8,506.76 820.8,506.81 822.8,506.90 824.8,507.03 826.8,507.21 828.8,507.44 830.8,507.71 832.8,508.01 834.8,508.34 836.8,508.69 838.8,509.04 840.8,509.39 842.8,509.73 844.8,510.06 846.8,510.35 848.8,510.61 850.8,510.82 852.8,510.99 854.8,511.13 856.8,511.24 858.8,511.34 860.8,511.43 862.8,511.52 864.8,511.60 866.8,511.67 868.8,511.74 870.8,511.80 872.8,511.85 874.8,511.89 876.8,511.92 878.8,511.93 880.8,511.94 882.8,511.95 884.8,511.95 886.8,511.95 888.8,511.95 890.8,511.95 892.8,511.95 894.8,511.95 896.8,511.95 898.8,511.95 900.8,511.95 902.8,511.95 904.8,511.95 906.8,511.95 908.8,511.95 910.8,511.95 912.8,511.95 914.8,511.95 916.8,511.95 918.8,511.95 920.8,511.95 922.8,511.95 924.8,511.95 926.8,511.95 928.8,511.95 930.8,511.95 932.8,511.95 934.8,511.95 936.8,511.95 938.8,511.95 940.8,511.95 942.8,511.95 944.8,511.95 946.8,511.95 948.8,511.95 950.8,511.95 952.8,511.95 954.8,511.95 956.8,511.95 958.8,511.95 960.8,511.95 962.8,511.95 964.8,511.95 966.8,511.95 968.8,511.95 970.8,511.95 972.8,511.95 974.8,511.95 976.8,511.95 978.8,511.95 980.8,511.95 982.8,511.95 984.8,511.95 986.8,511.95 988.8,511.95 990.8,511.95 992.8,511.95 994.8,511.95 996.8,511.95 998.8,511.95 1000.8,511.95 1002.8,511.95 1004.8,511.95 1006.8,511.95 1008.8,511.95 1010.8,511.95 1012.8,511.95 1014.8,511.95 1016.8,511.95 1018.8,511.95 1020.8,511.95 1022.8,511.95 1024.8,511.95 1026.8,511.95 1028.8,511.95 1030.8,511.95 1032.8,511.95 1034.8,511.95 1036.8,511.95 1038.8,511.95 1040.8,511.95 1042.8,511.95 1044.8,511.95 1046.8,511.95 1048.8,511.95 1050.8,511.95 1052.8,511.95 1054.8,511.95 1056.8,511.95 1058.8,511.95 1060.8,511.95 1062.8,511.95 1064.8,511.95 1066.8,511.95 1068.8,511.95 1070.8,511.95 1072.8,511.95 1074.8,511.95 1076.8,511.95 1078.8,511.95 1080.8,511.95 1082.8,511.95 1084.8,511.95 1086.8,511.95 1088.8,511.95 1090.8,511.95 1092.8,511.95 1094.8,511.95 1096.8,511.95 1098.8,511.95 1100.8,511.95 1102.8,511.95 1104.8,511.95 1106.8,511.95 1108.8,511.95 1110.8,511.95 1112.8,511.95 1114.8,511.95 1116.8,511.95 1118.8,511.95 1120.8,511.95 1122.8,511.95 1124.8,511.95 1126.8,511.95 1128.8,511.95 1130.8,511.95 1132.8,511.95 1134.8,511.95 1136.8,511.95 1138.8,511.95 1140.8,511.95 1142.8,511.95 1144.8,511.95 1146.8,511.95 1148.8,511.95 1150.8,511.95 1152.8,511.95 1154.8,511.95 1156.8,511.95 1158.8,511.95 1160.8,511.95 1162.8,511.95 1164.8,511.95 1166.8,511.95 1168.8,511.95 1170.8,511.95 1172.8,511.95 1174.8,511.95 1176.8,511.95 1178.8,511.95 1180.8,511.95 1182.8,511.95 1184.8,511.95 1186.8,511.95 1188.8,511.95 1190.8,511.95 1192.8,511.95 1194.8,511.95 1196.8,511.95 1198.8,511.95 1200.8,511.95 1202.8,511.95 1204.8,511.95 1206.8,511.95 1208.8,511.95 1210.8,511.95 1212.8,511.95 1214.8,511.95 1216.8,511.95 1218.8,511.95 1220.8,511.95 1222.8,511.95 1224.8,511.95 1226.8,511.95 1228.8,511.95 1230.8,511.95 1232.8,511.95 1234.8,511.95 1236.8,511.95 1238.8,511.95 1240.8,511.95 1242.8,511.95 1244.8,511.95 1246.8,511.95 1248.8,511.95 1250.8,511.95 1252.8,511.95 1254.8,511.95 1256.8,511.95 1258.8,511.95 1260.8,511.95 1262.8,511.95 1264.8,511.95 1266.8,511.95 1268.8,511.95 1270.8,511.95 1272.8,511.95 1274.8,511.95 1276.8,511.95 1278.8,511.95 1280.8,511.95 1282.8,511.95 1284.8,511.95 1286.8,511.95 1288.8,511.95 1290.8,511.95 1292.8,511.95 1294.8,511.95 1296.8,511.95 1297.3,511.95" stroke="#000" stroke-width="2.8" fill="none" stroke-linecap="round" stroke-linejoin="round"/>
<polygon points="410.8,597.02 410.8,597.02 412.8,597.02 414.8,597.02 416.8,597.02 418.8,597.02 420.8,597.02 422.8,597.02 424.8,597.02 426.8,597.02 428.8,597.02 430.8,597.02 432.8,597.02 434.8,597.02 436.8,597.02 438.8,597.02 440.8,597.02 442.8,597.02 444.8,597.02 446.8,597.02 448.8,597.02 450.8,597.02 452.8,597.02 454.8,597.02 456.8,597.02 458.8,597.02 460.8,597.02 462.8,597.02 464.8,597.02 466.8,597.02 468.8,597.02 470.8,597.02 472.8,597.02 474.8,597.02 476.8,597.02 478.8,597.02 480.8,597.01 482.8,597.00 484.8,596.98 486.8,596.95 488.8,596.91 490.8,596.86 492.8,596.81 494.8,596.74 496.8,596.67 498.8,596.59 500.8,596.50 502.8,596.40 504.8,596.29 506.8,596.18 508.8,596.04 510.8,595.88 512.8,595.66 514.8,595.39 516.8,595.06 518.8,594.66 520.8,594.21 522.8,593.66 524.8,593.03 526.8,592.27 528.8,591.37 530.8,590.29 532.8,589.00 534.8,587.49 536.8,585.78 538.8,583.92 540.8,581.91 542.8,579.73 544.8,577.39 546.8,574.88 548.8,572.21 550.8,569.37 552.8,566.37 554.8,563.22 556.8,559.96 558.8,556.63 560.8,553.26 562.8,549.85 564.8,546.43 566.8,543.00 568.8,539.60 570.8,536.23 572.8,532.91 574.8,529.74 576.8,526.86 578.8,524.36 580.8,522.26 582.8,520.50 584.8,519.02 586.8,517.77 588.8,516.72 590.8,515.84 592.8,515.09 594.8,514.46 596.8,513.95 598.8,513.52 600.8,513.18 602.8,512.91 604.8,512.70 606.8,512.56 608.8,512.48 610.8,512.48 612.8,512.54 614.8,512.66 616.8,512.91 618.8,513.38 620.8,514.24 622.8,515.54 624.8,517.25 626.8,519.22 628.8,521.32 630.8,523.45 632.8,525.63 634.8,527.90 636.8,530.31 638.8,532.90 640.8,535.70 642.8,538.71 644.8,541.88 646.8,545.09 648.8,548.25 650.8,551.31 652.8,554.25 654.8,557.10 656.8,559.86 658.8,562.53 660.8,565.12 662.8,567.62 664.8,570.04 666.8,572.35 668.8,574.54 670.8,576.62 672.8,578.58 674.8,580.42 676.8,582.14 678.8,583.72 680.8,585.18 682.8,586.51 684.8,587.74 686.8,588.87 688.8,589.90 690.8,590.85 692.8,591.72 694.8,592.52 696.8,593.25 698.8,593.94 700.8,594.58 702.8,595.17 704.8,595.69 706.8,596.09 708.8,596.37 710.8,596.55 712.8,596.66 714.8,596.74 716.8,596.81 718.8,596.87 720.8,596.91 722.8,596.95 724.8,596.98 726.8,597.00 728.8,597.01 730.8,597.02 732.8,597.02 734.8,597.02 736.8,597.02 738.8,597.02 740.8,597.02 742.8,597.02 744.8,597.02 746.8,597.02 748.8,597.02 750.8,597.02 752.8,597.02 754.8,597.02 756.8,597.02 758.8,597.02 760.8,597.02 762.8,597.02 764.8,597.02 766.8,597.02 768.8,597.02 770.8,597.02 772.8,597.02 774.8,597.02 776.8,597.02 778.8,597.02 780.8,597.02 782.8,597.02 784.8,597.02 786.8,597.02 788.8,597.02 790.8,597.02 792.8,597.02 794.8,597.02 796.8,597.02 798.8,597.02 800.8,597.02 802.8,597.02 804.8,597.02 806.8,597.02 808.8,597.02 810.8,597.02 812.8,597.02 814.8,597.02 816.8,597.02 818.8,597.02 820.8,597.02 822.8,597.02 824.8,597.02 826.8,597.02 828.8,597.02 830.8,597.02 832.8,597.02 834.8,597.02 836.8,597.02 838.8,597.02 840.8,597.02 842.8,597.02 844.8,597.02 846.8,597.02 848.8,597.02 850.8,597.02 852.8,597.02 854.8,597.02 856.8,597.02 858.8,597.02 860.8,597.02 862.8,597.02 864.8,597.02 866.8,597.02 868.8,597.02 870.8,597.02 872.8,597.02 874.8,597.02 876.8,597.02 878.8,597.02 880.8,597.02 882.8,597.02 884.8,597.02 886.8,597.02 888.8,597.02 890.8,597.02 892.8,597.02 894.8,597.02 896.8,597.02 898.8,597.02 900.8,597.02 902.8,597.02 904.8,597.02 906.8,597.02 908.8,597.02 910.8,597.02 912.8,597.02 914.8,597.02 916.8,597.02 918.8,597.02 920.8,597.02 922.8,597.02 924.8,597.02 926.8,597.02 928.8,597.02 930.8,597.02 932.8,597.02 934.8,597.02 936.8,597.02 938.8,597.02 940.8,597.02 942.8,597.02 944.8,597.02 946.8,597.02 948.8,597.02 950.8,597.02 952.8,597.02 954.8,597.02 956.8,597.02 958.8,597.02 960.8,597.02 962.8,597.02 964.8,597.02 966.8,597.02 968.8,597.02 970.8,597.02 972.8,597.02 974.8,597.02 976.8,597.02 978.8,597.02 980.8,597.02 982.8,597.02 984.8,597.02 986.8,597.02 988.8,597.02 990.8,597.02 992.8,597.02 994.8,597.02 996.8,597.02 998.8,597.02 1000.8,597.02 1002.8,597.02 1004.8,597.02 1006.8,597.02 1008.8,597.02 1010.8,597.02 1012.8,597.02 1014.8,597.02 1016.8,597.02 1018.8,597.02 1020.8,597.02 1022.8,597.02 1024.8,597.02 1026.8,597.02 1028.8,597.02 1030.8,597.02 1032.8,597.02 1034.8,597.02 1036.8,597.02 1038.8,597.02 1040.8,597.02 1042.8,597.02 1044.8,597.02 1046.8,597.02 1048.8,597.02 1050.8,597.02 1052.8,597.02 1054.8,597.02 1056.8,597.02 1058.8,597.02 1060.8,597.02 1062.8,597.02 1064.8,597.02 1066.8,597.02 1068.8,597.02 1070.8,597.02 1072.8,597.02 1074.8,597.02 1076.8,597.02 1078.8,597.02 1080.8,597.02 1082.8,597.02 1084.8,597.02 1086.8,597.02 1088.8,597.02 1090.8,597.02 1092.8,597.02 1094.8,597.02 1096.8,597.02 1098.8,597.02 1100.8,597.02 1102.8,597.02 1104.8,597.02 1106.8,597.02 1108.8,597.02 1110.8,597.02 1112.8,597.02 1114.8,597.02 1116.8,597.02 1118.8,597.02 1120.8,597.02 1122.8,597.02 1124.8,597.02 1126.8,597.02 1128.8,597.02 1130.8,597.02 1132.8,597.02 1134.8,597.02 1136.8,597.02 1138.8,597.02 1140.8,597.02 1142.8,597.02 1144.8,597.02 1146.8,597.02 1148.8,597.02 1150.8,597.02 1152.8,597.02 1154.8,597.02 1156.8,597.02 1158.8,597.02 1160.8,597.02 1162.8,597.02 1164.8,597.02 1166.8,597.02 1168.8,597.02 1170.8,597.02 1172.8,597.02 1174.8,597.02 1176.8,597.02 1178.8,597.02 1180.8,597.02 1182.8,597.02 1184.8,597.02 1186.8,597.02 1188.8,597.02 1190.8,597.02 1192.8,597.02 1194.8,597.02 1196.8,597.02 1198.8,597.02 1200.8,597.02 1202.8,597.02 1204.8,597.02 1206.8,597.02 1208.8,597.02 1210.8,597.02 1212.8,597.02 1214.8,597.02 1216.8,597.02 1218.8,597.02 1220.8,597.02 1222.8,597.02 1224.8,597.02 1226.8,597.02 1228.8,597.02 1230.8,597.02 1232.8,597.02 1234.8,597.02 1236.8,597.02 1238.8,597.02 1240.8,597.02 1242.8,597.02 1244.8,597.02 1246.8,597.02 1248.8,597.02 1250.8,597.02 1252.8,597.02 1254.8,597.02 1256.8,597.02 1258.8,597.02 1260.8,597.02 1262.8,597.02 1264.8,597.02 1266.8,597.02 1268.8,597.02 1270.8,597.02 1272.8,597.02 1274.8,597.02 1276.8,597.02 1278.8,597.02 1280.8,597.02 1282.8,597.02 1284.8,597.02 1286.8,597.02 1288.8,597.02 1290.8,597.02 1292.8,597.02 1294.8,597.02 1296.8,597.02 1297.3,597.02 1297.3,597.02" fill="rgb(59,192,197)" fill-opacity="0.7"/>
<path d="M575.6 597.02V528.11M603.5 597.02V512.77M633.1 597.02V525.83" stroke="#000" stroke-width="2.8" fill="none"/>
<polyline points="410.8,597.02 412.8,597.02 414.8,597.02 416.8,597.02 418.8,597.02 420.8,597.02 422.8,597.02 424.8,597.02 426.8,597.02 428.8,597.02 430.8,597.02 432.8,597.02 434.8,597.02 436.8,597.02 438.8,597.02 440.8,597.02 442.8,597.02 444.8,597.02 446.8,597.02 448.8,597.02 450.8,597.02 452.8,597.02 454.8,597.02 456.8,597.02 458.8,597.02 460.8,597.02 462.8,597.02 464.8,597.02 466.8,597.02 468.8,597.02 470.8,597.02 472.8,597.02 474.8,597.02 476.8,597.02 478.8,597.02 480.8,597.01 482.8,597.00 484.8,596.98 486.8,596.95 488.8,596.91 490.8,596.86 492.8,596.81 494.8,596.74 496.8,596.67 498.8,596.59 500.8,596.50 502.8,596.40 504.8,596.29 506.8,596.18 508.8,596.04 510.8,595.88 512.8,595.66 514.8,595.39 516.8,595.06 518.8,594.66 520.8,594.21 522.8,593.66 524.8,593.03 526.8,592.27 528.8,591.37 530.8,590.29 532.8,589.00 534.8,587.49 536.8,585.78 538.8,583.92 540.8,581.91 542.8,579.73 544.8,577.39 546.8,574.88 548.8,572.21 550.8,569.37 552.8,566.37 554.8,563.22 556.8,559.96 558.8,556.63 560.8,553.26 562.8,549.85 564.8,546.43 566.8,543.00 568.8,539.60 570.8,536.23 572.8,532.91 574.8,529.74 576.8,526.86 578.8,524.36 580.8,522.26 582.8,520.50 584.8,519.02 586.8,517.77 588.8,516.72 590.8,515.84 592.8,515.09 594.8,514.46 596.8,513.95 598.8,513.52 600.8,513.18 602.8,512.91 604.8,512.70 606.8,512.56 608.8,512.48 610.8,512.48 612.8,512.54 614.8,512.66 616.8,512.91 618.8,513.38 620.8,514.24 622.8,515.54 624.8,517.25 626.8,519.22 628.8,521.32 630.8,523.45 632.8,525.63 634.8,527.90 636.8,530.31 638.8,532.90 640.8,535.70 642.8,538.71 644.8,541.88 646.8,545.09 648.8,548.25 650.8,551.31 652.8,554.25 654.8,557.10 656.8,559.86 658.8,562.53 660.8,565.12 662.8,567.62 664.8,570.04 666.8,572.35 668.8,574.54 670.8,576.62 672.8,578.58 674.8,580.42 676.8,582.14 678.8,583.72 680.8,585.18 682.8,586.51 684.8,587.74 686.8,588.87 688.8,589.90 690.8,590.85 692.8,591.72 694.8,592.52 696.8,593.25 698.8,593.94 700.8,594.58 702.8,595.17 704.8,595.69 706.8,596.09 708.8,596.37 710.8,596.55 712.8,596.66 714.8,596.74 716.8,596.81 718.8,596.87 720.8,596.91 722.8,596.95 724.8,596.98 726.8,597.00 728.8,597.01 730.8,597.02 732.8,597.02 734.8,597.02 736.8,597.02 738.8,597.02 740.8,597.02 742.8,597.02 744.8,597.02 746.8,597.02 748.8,597.02 750.8,597.02 752.8,597.02 754.8,597.02 756.8,597.02 758.8,597.02 760.8,597.02 762.8,597.02 764.8,597.02 766.8,597.02 768.8,597.02 770.8,597.02 772.8,597.02 774.8,597.02 776.8,597.02 778.8,597.02 780.8,597.02 782.8,597.02 784.8,597.02 786.8,597.02 788.8,597.02 790.8,597.02 792.8,597.02 794.8,597.02 796.8,597.02 798.8,597.02 800.8,597.02 802.8,597.02 804.8,597.02 806.8,597.02 808.8,597.02 810.8,597.02 812.8,597.02 814.8,597.02 816.8,597.02 818.8,597.02 820.8,597.02 822.8,597.02 824.8,597.02 826.8,597.02 828.8,597.02 830.8,597.02 832.8,597.02 834.8,597.02 836.8,597.02 838.8,597.02 840.8,597.02 842.8,597.02 844.8,597.02 846.8,597.02 848.8,597.02 850.8,597.02 852.8,597.02 854.8,597.02 856.8,597.02 858.8,597.02 860.8,597.02 862.8,597.02 864.8,597.02 866.8,597.02 868.8,597.02 870.8,597.02 872.8,597.02 874.8,597.02 876.8,597.02 878.8,597.02 880.8,597.02 882.8,597.02 884.8,597.02 886.8,597.02 888.8,597.02 890.8,597.02 892.8,597.02 894.8,597.02 896.8,597.02 898.8,597.02 900.8,597.02 902.8,597.02 904.8,597.02 906.8,597.02 908.8,597.02 910.8,597.02 912.8,597.02 914.8,597.02 916.8,597.02 918.8,597.02 920.8,597.02 922.8,597.02 924.8,597.02 926.8,597.02 928.8,597.02 930.8,597.02 932.8,597.02 934.8,597.02 936.8,597.02 938.8,597.02 940.8,597.02 942.8,597.02 944.8,597.02 946.8,597.02 948.8,597.02 950.8,597.02 952.8,597.02 954.8,597.02 956.8,597.02 958.8,597.02 960.8,597.02 962.8,597.02 964.8,597.02 966.8,597.02 968.8,597.02 970.8,597.02 972.8,597.02 974.8,597.02 976.8,597.02 978.8,597.02 980.8,597.02 982.8,597.02 984.8,597.02 986.8,597.02 988.8,597.02 990.8,597.02 992.8,597.02 994.8,597.02 996.8,597.02 998.8,597.02 1000.8,597.02 1002.8,597.02 1004.8,597.02 1006.8,597.02 1008.8,597.02 1010.8,597.02 1012.8,597.02 1014.8,597.02 1016.8,597.02 1018.8,597.02 1020.8,597.02 1022.8,597.02 1024.8,597.02 1026.8,597.02 1028.8,597.02 1030.8,597.02 1032.8,597.02 1034.8,597.02 1036.8,597.02 1038.8,597.02 1040.8,597.02 1042.8,597.02 1044.8,597.02 1046.8,597.02 1048.8,597.02 1050.8,597.02 1052.8,597.02 1054.8,597.02 1056.8,597.02 1058.8,597.02 1060.8,597.02 1062.8,597.02 1064.8,597.02 1066.8,597.02 1068.8,597.02 1070.8,597.02 1072.8,597.02 1074.8,597.02 1076.8,597.02 1078.8,597.02 1080.8,597.02 1082.8,597.02 1084.8,597.02 1086.8,597.02 1088.8,597.02 1090.8,597.02 1092.8,597.02 1094.8,597.02 1096.8,597.02 1098.8,597.02 1100.8,597.02 1102.8,597.02 1104.8,597.02 1106.8,597.02 1108.8,597.02 1110.8,597.02 1112.8,597.02 1114.8,597.02 1116.8,597.02 1118.8,597.02 1120.8,597.02 1122.8,597.02 1124.8,597.02 1126.8,597.02 1128.8,597.02 1130.8,597.02 1132.8,597.02 1134.8,597.02 1136.8,597.02 1138.8,597.02 1140.8,597.02 1142.8,597.02 1144.8,597.02 1146.8,597.02 1148.8,597.02 1150.8,597.02 1152.8,597.02 1154.8,597.02 1156.8,597.02 1158.8,597.02 1160.8,597.02 1162.8,597.02 1164.8,597.02 1166.8,597.02 1168.8,597.02 1170.8,597.02 1172.8,597.02 1174.8,597.02 1176.8,597.02 1178.8,597.02 1180.8,597.02 1182.8,597.02 1184.8,597.02 1186.8,597.02 1188.8,597.02 1190.8,597.02 1192.8,597.02 1194.8,597.02 1196.8,597.02 1198.8,597.02 1200.8,597.02 1202.8,597.02 1204.8,597.02 1206.8,597.02 1208.8,597.02 1210.8,597.02 1212.8,597.02 1214.8,597.02 1216.8,597.02 1218.8,597.02 1220.8,597.02 1222.8,597.02 1224.8,597.02 1226.8,597.02 1228.8,597.02 1230.8,597.02 1232.8,597.02 1234.8,597.02 1236.8,597.02 1238.8,597.02 1240.8,597.02 1242.8,597.02 1244.8,597.02 1246.8,597.02 1248.8,597.02 1250.8,597.02 1252.8,597.02 1254.8,597.02 1256.8,597.02 1258.8,597.02 1260.8,597.02 1262.8,597.02 1264.8,597.02 1266.8,597.02 1268.8,597.02 1270.8,597.02 1272.8,597.02 1274.8,597.02 1276.8,597.02 1278.8,597.02 1280.8,597.02 1282.8,597.02 1284.8,597.02 1286.8,597.02 1288.8,597.02 1290.8,597.02 1292.8,597.02 1294.8,597.02 1296.8,597.02 1297.3,597.02" stroke="#000" stroke-width="2.8" fill="none" stroke-linecap="round" stroke-linejoin="round"/>
<polygon points="410.8,682.09 410.8,682.09 412.8,682.09 414.8,682.09 416.8,682.09 418.8,682.09 420.8,682.09 422.8,682.09 424.8,682.09 426.8,682.09 428.8,682.09 430.8,682.09 432.8,682.09 434.8,682.09 436.8,682.09 438.8,682.09 440.8,682.09 442.8,682.09 444.8,682.09 446.8,682.09 448.8,682.09 450.8,682.09 452.8,682.09 454.8,682.09 456.8,682.09 458.8,682.09 460.8,682.09 462.8,682.08 464.8,682.07 466.8,682.06 468.8,682.04 470.8,682.01 472.8,681.99 474.8,681.95 476.8,681.92 478.8,681.88 480.8,681.83 482.8,681.78 484.8,681.73 486.8,681.67 488.8,681.61 490.8,681.53 492.8,681.44 494.8,681.31 496.8,681.15 498.8,680.95 500.8,680.72 502.8,680.46 504.8,680.16 506.8,679.82 508.8,679.43 510.8,679.02 512.8,678.59 514.8,678.15 516.8,677.69 518.8,677.22 520.8,676.74 522.8,676.24 524.8,675.75 526.8,675.24 528.8,674.73 530.8,674.22 532.8,673.70 534.8,673.18 536.8,672.65 538.8,672.13 540.8,671.60 542.8,671.07 544.8,670.52 546.8,669.95 548.8,669.36 550.8,668.75 552.8,668.10 554.8,667.42 556.8,666.70 558.8,665.92 560.8,665.08 562.8,664.17 564.8,663.19 566.8,662.14 568.8,661.02 570.8,659.86 572.8,658.70 574.8,657.57 576.8,656.51 578.8,655.49 580.8,654.47 582.8,653.37 584.8,652.19 586.8,650.92 588.8,649.63 590.8,648.37 592.8,647.19 594.8,646.11 596.8,645.14 598.8,644.28 600.8,643.52 602.8,642.80 604.8,642.09 606.8,641.36 608.8,640.63 610.8,639.90 612.8,639.19 614.8,638.51 616.8,637.86 618.8,637.25 620.8,636.68 622.8,636.15 624.8,635.65 626.8,635.18 628.8,634.74 630.8,634.32 632.8,633.91 634.8,633.49 636.8,633.08 638.8,632.69 640.8,632.35 642.8,632.07 644.8,631.84 646.8,631.66 648.8,631.47 650.8,631.27 652.8,631.06 654.8,630.88 656.8,630.77 658.8,630.78 660.8,630.93 662.8,631.23 664.8,631.69 666.8,632.29 668.8,633.05 670.8,633.97 672.8,635.04 674.8,636.25 676.8,637.61 678.8,639.09 680.8,640.68 682.8,642.36 684.8,644.10 686.8,645.88 688.8,647.68 690.8,649.46 692.8,651.21 694.8,652.91 696.8,654.55 698.8,656.12 700.8,657.62 702.8,659.03 704.8,660.38 706.8,661.64 708.8,662.82 710.8,663.91 712.8,664.90 714.8,665.78 716.8,666.55 718.8,667.17 720.8,667.65 722.8,667.99 724.8,668.22 726.8,668.34 728.8,668.36 730.8,668.28 732.8,668.12 734.8,667.91 736.8,667.69 738.8,667.48 740.8,667.29 742.8,667.12 744.8,666.97 746.8,666.84 748.8,666.74 750.8,666.69 752.8,666.70 754.8,666.78 756.8,666.94 758.8,667.17 760.8,667.46 762.8,667.78 764.8,668.14 766.8,668.52 768.8,668.90 770.8,669.26 772.8,669.61 774.8,669.94 776.8,670.25 778.8,670.55 780.8,670.85 782.8,671.15 784.8,671.45 786.8,671.75 788.8,672.06 790.8,672.37 792.8,672.69 794.8,673.02 796.8,673.35 798.8,673.70 800.8,674.04 802.8,674.38 804.8,674.72 806.8,675.05 808.8,675.37 810.8,675.68 812.8,675.98 814.8,676.29 816.8,676.61 818.8,676.92 820.8,677.23 822.8,677.52 824.8,677.79 826.8,678.02 828.8,678.21 830.8,678.34 832.8,678.42 834.8,678.44 836.8,678.40 838.8,678.32 840.8,678.21 842.8,678.07 844.8,677.91 846.8,677.73 848.8,677.55 850.8,677.37 852.8,677.19 854.8,677.03 856.8,676.89 858.8,676.78 860.8,676.70 862.8,676.65 864.8,676.65 866.8,676.68 868.8,676.75 870.8,676.84 872.8,676.95 874.8,677.08 876.8,677.22 878.8,677.36 880.8,677.51 882.8,677.65 884.8,677.77 886.8,677.88 888.8,677.97 890.8,678.03 892.8,678.07 894.8,678.08 896.8,678.08 898.8,678.06 900.8,678.04 902.8,678.01 904.8,677.99 906.8,677.96 908.8,677.94 910.8,677.92 912.8,677.92 914.8,677.92 916.8,677.95 918.8,677.99 920.8,678.06 922.8,678.14 924.8,678.24 926.8,678.35 928.8,678.48 930.8,678.62 932.8,678.76 934.8,678.91 936.8,679.07 938.8,679.22 940.8,679.38 942.8,679.54 944.8,679.69 946.8,679.83 948.8,679.97 950.8,680.10 952.8,680.22 954.8,680.33 956.8,680.45 958.8,680.56 960.8,680.67 962.8,680.79 964.8,680.91 966.8,681.03 968.8,681.14 970.8,681.26 972.8,681.37 974.8,681.48 976.8,681.58 978.8,681.68 980.8,681.76 982.8,681.84 984.8,681.91 986.8,681.97 988.8,682.02 990.8,682.05 992.8,682.07 994.8,682.08 996.8,682.09 998.8,682.09 1000.8,682.09 1002.8,682.09 1004.8,682.09 1006.8,682.09 1008.8,682.09 1010.8,682.09 1012.8,682.09 1014.8,682.09 1016.8,682.09 1018.8,682.09 1020.8,682.09 1022.8,682.09 1024.8,682.09 1026.8,682.09 1028.8,682.09 1030.8,682.09 1032.8,682.09 1034.8,682.09 1036.8,682.09 1038.8,682.09 1040.8,682.09 1042.8,682.09 1044.8,682.09 1046.8,682.09 1048.8,682.09 1050.8,682.09 1052.8,682.09 1054.8,682.09 1056.8,682.09 1058.8,682.09 1060.8,682.09 1062.8,682.09 1064.8,682.09 1066.8,682.09 1068.8,682.09 1070.8,682.09 1072.8,682.09 1074.8,682.09 1076.8,682.09 1078.8,682.09 1080.8,682.09 1082.8,682.09 1084.8,682.09 1086.8,682.09 1088.8,682.09 1090.8,682.09 1092.8,682.09 1094.8,682.09 1096.8,682.09 1098.8,682.09 1100.8,682.09 1102.8,682.09 1104.8,682.09 1106.8,682.09 1108.8,682.09 1110.8,682.09 1112.8,682.09 1114.8,682.09 1116.8,682.09 1118.8,682.09 1120.8,682.09 1122.8,682.09 1124.8,682.09 1126.8,682.09 1128.8,682.09 1130.8,682.09 1132.8,682.09 1134.8,682.09 1136.8,682.09 1138.8,682.09 1140.8,682.09 1142.8,682.09 1144.8,682.09 1146.8,682.09 1148.8,682.09 1150.8,682.09 1152.8,682.09 1154.8,682.09 1156.8,682.09 1158.8,682.09 1160.8,682.09 1162.8,682.09 1164.8,682.09 1166.8,682.09 1168.8,682.09 1170.8,682.09 1172.8,682.09 1174.8,682.09 1176.8,682.09 1178.8,682.09 1180.8,682.09 1182.8,682.09 1184.8,682.09 1186.8,682.09 1188.8,682.09 1190.8,682.09 1192.8,682.09 1194.8,682.09 1196.8,682.09 1198.8,682.09 1200.8,682.09 1202.8,682.09 1204.8,682.09 1206.8,682.09 1208.8,682.09 1210.8,682.09 1212.8,682.09 1214.8,682.09 1216.8,682.09 1218.8,682.09 1220.8,682.09 1222.8,682.09 1224.8,682.09 1226.8,682.09 1228.8,682.09 1230.8,682.09 1232.8,682.09 1234.8,682.09 1236.8,682.09 1238.8,682.09 1240.8,682.09 1242.8,682.09 1244.8,682.09 1246.8,682.09 1248.8,682.09 1250.8,682.09 1252.8,682.09 1254.8,682.09 1256.8,682.09 1258.8,682.09 1260.8,682.09 1262.8,682.09 1264.8,682.09 1266.8,682.09 1268.8,682.09 1270.8,682.09 1272.8,682.09 1274.8,682.09 1276.8,682.09 1278.8,682.09 1280.8,682.09 1282.8,682.09 1284.8,682.09 1286.8,682.09 1288.8,682.09 1290.8,682.09 1292.8,682.09 1294.8,682.09 1296.8,682.09 1297.3,682.09 1297.3,682.09" fill="rgb(106,152,255)" fill-opacity="0.7"/>
<path d="M583.2 682.09V653.31M657.4 682.09V630.60M792.7 682.09V672.66" stroke="#000" stroke-width="2.8" fill="none"/>
<polyline points="410.8,682.09 412.8,682.09 414.8,682.09 416.8,682.09 418.8,682.09 420.8,682.09 422.8,682.09 424.8,682.09 426.8,682.09 428.8,682.09 430.8,682.09 432.8,682.09 434.8,682.09 436.8,682.09 438.8,682.09 440.8,682.09 442.8,682.09 444.8,682.09 446.8,682.09 448.8,682.09 450.8,682.09 452.8,682.09 454.8,682.09 456.8,682.09 458.8,682.09 460.8,682.09 462.8,682.08 464.8,682.07 466.8,682.06 468.8,682.04 470.8,682.01 472.8,681.99 474.8,681.95 476.8,681.92 478.8,681.88 480.8,681.83 482.8,681.78 484.8,681.73 486.8,681.67 488.8,681.61 490.8,681.53 492.8,681.44 494.8,681.31 496.8,681.15 498.8,680.95 500.8,680.72 502.8,680.46 504.8,680.16 506.8,679.82 508.8,679.43 510.8,679.02 512.8,678.59 514.8,678.15 516.8,677.69 518.8,677.22 520.8,676.74 522.8,676.24 524.8,675.75 526.8,675.24 528.8,674.73 530.8,674.22 532.8,673.70 534.8,673.18 536.8,672.65 538.8,672.13 540.8,671.60 542.8,671.07 544.8,670.52 546.8,669.95 548.8,669.36 550.8,668.75 552.8,668.10 554.8,667.42 556.8,666.70 558.8,665.92 560.8,665.08 562.8,664.17 564.8,663.19 566.8,662.14 568.8,661.02 570.8,659.86 572.8,658.70 574.8,657.57 576.8,656.51 578.8,655.49 580.8,654.47 582.8,653.37 584.8,652.19 586.8,650.92 588.8,649.63 590.8,648.37 592.8,647.19 594.8,646.11 596.8,645.14 598.8,644.28 600.8,643.52 602.8,642.80 604.8,642.09 606.8,641.36 608.8,640.63 610.8,639.90 612.8,639.19 614.8,638.51 616.8,637.86 618.8,637.25 620.8,636.68 622.8,636.15 624.8,635.65 626.8,635.18 628.8,634.74 630.8,634.32 632.8,633.91 634.8,633.49 636.8,633.08 638.8,632.69 640.8,632.35 642.8,632.07 644.8,631.84 646.8,631.66 648.8,631.47 650.8,631.27 652.8,631.06 654.8,630.88 656.8,630.77 658.8,630.78 660.8,630.93 662.8,631.23 664.8,631.69 666.8,632.29 668.8,633.05 670.8,633.97 672.8,635.04 674.8,636.25 676.8,637.61 678.8,639.09 680.8,640.68 682.8,642.36 684.8,644.10 686.8,645.88 688.8,647.68 690.8,649.46 692.8,651.21 694.8,652.91 696.8,654.55 698.8,656.12 700.8,657.62 702.8,659.03 704.8,660.38 706.8,661.64 708.8,662.82 710.8,663.91 712.8,664.90 714.8,665.78 716.8,666.55 718.8,667.17 720.8,667.65 722.8,667.99 724.8,668.22 726.8,668.34 728.8,668.36 730.8,668.28 732.8,668.12 734.8,667.91 736.8,667.69 738.8,667.48 740.8,667.29 742.8,667.12 744.8,666.97 746.8,666.84 748.8,666.74 750.8,666.69 752.8,666.70 754.8,666.78 756.8,666.94 758.8,667.17 760.8,667.46 762.8,667.78 764.8,668.14 766.8,668.52 768.8,668.90 770.8,669.26 772.8,669.61 774.8,669.94 776.8,670.25 778.8,670.55 780.8,670.85 782.8,671.15 784.8,671.45 786.8,671.75 788.8,672.06 790.8,672.37 792.8,672.69 794.8,673.02 796.8,673.35 798.8,673.70 800.8,674.04 802.8,674.38 804.8,674.72 806.8,675.05 808.8,675.37 810.8,675.68 812.8,675.98 814.8,676.29 816.8,676.61 818.8,676.92 820.8,677.23 822.8,677.52 824.8,677.79 826.8,678.02 828.8,678.21 830.8,678.34 832.8,678.42 834.8,678.44 836.8,678.40 838.8,678.32 840.8,678.21 842.8,678.07 844.8,677.91 846.8,677.73 848.8,677.55 850.8,677.37 852.8,677.19 854.8,677.03 856.8,676.89 858.8,676.78 860.8,676.70 862.8,676.65 864.8,676.65 866.8,676.68 868.8,676.75 870.8,676.84 872.8,676.95 874.8,677.08 876.8,677.22 878.8,677.36 880.8,677.51 882.8,677.65 884.8,677.77 886.8,677.88 888.8,677.97 890.8,678.03 892.8,678.07 894.8,678.08 896.8,678.08 898.8,678.06 900.8,678.04 902.8,678.01 904.8,677.99 906.8,677.96 908.8,677.94 910.8,677.92 912.8,677.92 914.8,677.92 916.8,677.95 918.8,677.99 920.8,678.06 922.8,678.14 924.8,678.24 926.8,678.35 928.8,678.48 930.8,678.62 932.8,678.76 934.8,678.91 936.8,679.07 938.8,679.22 940.8,679.38 942.8,679.54 944.8,679.69 946.8,679.83 948.8,679.97 950.8,680.10 952.8,680.22 954.8,680.33 956.8,680.45 958.8,680.56 960.8,680.67 962.8,680.79 964.8,680.91 966.8,681.03 968.8,681.14 970.8,681.26 972.8,681.37 974.8,681.48 976.8,681.58 978.8,681.68 980.8,681.76 982.8,681.84 984.8,681.91 986.8,681.97 988.8,682.02 990.8,682.05 992.8,682.07 994.8,682.08 996.8,682.09 998.8,682.09 1000.8,682.09 1002.8,682.09 1004.8,682.09 1006.8,682.09 1008.8,682.09 1010.8,682.09 1012.8,682.09 1014.8,682.09 1016.8,682.09 1018.8,682.09 1020.8,682.09 1022.8,682.09 1024.8,682.09 1026.8,682.09 1028.8,682.09 1030.8,682.09 1032.8,682.09 1034.8,682.09 1036.8,682.09 1038.8,682.09 1040.8,682.09 1042.8,682.09 1044.8,682.09 1046.8,682.09 1048.8,682.09 1050.8,682.09 1052.8,682.09 1054.8,682.09 1056.8,682.09 1058.8,682.09 1060.8,682.09 1062.8,682.09 1064.8,682.09 1066.8,682.09 1068.8,682.09 1070.8,682.09 1072.8,682.09 1074.8,682.09 1076.8,682.09 1078.8,682.09 1080.8,682.09 1082.8,682.09 1084.8,682.09 1086.8,682.09 1088.8,682.09 1090.8,682.09 1092.8,682.09 1094.8,682.09 1096.8,682.09 1098.8,682.09 1100.8,682.09 1102.8,682.09 1104.8,682.09 1106.8,682.09 1108.8,682.09 1110.8,682.09 1112.8,682.09 1114.8,682.09 1116.8,682.09 1118.8,682.09 1120.8,682.09 1122.8,682.09 1124.8,682.09 1126.8,682.09 1128.8,682.09 1130.8,682.09 1132.8,682.09 1134.8,682.09 1136.8,682.09 1138.8,682.09 1140.8,682.09 1142.8,682.09 1144.8,682.09 1146.8,682.09 1148.8,682.09 1150.8,682.09 1152.8,682.09 1154.8,682.09 1156.8,682.09 1158.8,682.09 1160.8,682.09 1162.8,682.09 1164.8,682.09 1166.8,682.09 1168.8,682.09 1170.8,682.09 1172.8,682.09 1174.8,682.09 1176.8,682.09 1178.8,682.09 1180.8,682.09 1182.8,682.09 1184.8,682.09 1186.8,682.09 1188.8,682.09 1190.8,682.09 1192.8,682.09 1194.8,682.09 1196.8,682.09 1198.8,682.09 1200.8,682.09 1202.8,682.09 1204.8,682.09 1206.8,682.09 1208.8,682.09 1210.8,682.09 1212.8,682.09 1214.8,682.09 1216.8,682.09 1218.8,682.09 1220.8,682.09 1222.8,682.09 1224.8,682.09 1226.8,682.09 1228.8,682.09 1230.8,682.09 1232.8,682.09 1234.8,682.09 1236.8,682.09 1238.8,682.09 1240.8,682.09 1242.8,682.09 1244.8,682.09 1246.8,682.09 1248.8,682.09 1250.8,682.09 1252.8,682.09 1254.8,682.09 1256.8,682.09 1258.8,682.09 1260.8,682.09 1262.8,682.09 1264.8,682.09 1266.8,682.09 1268.8,682.09 1270.8,682.09 1272.8,682.09 1274.8,682.09 1276.8,682.09 1278.8,682.09 1280.8,682.09 1282.8,682.09 1284.8,682.09 1286.8,682.09 1288.8,682.09 1290.8,682.09 1292.8,682.09 1294.8,682.09 1296.8,682.09 1297.3,682.09" stroke="#000" stroke-width="2.8" fill="none" stroke-linecap="round" stroke-linejoin="round"/>
<polygon points="410.8,767.16 410.8,767.16 412.8,767.16 414.8,767.16 416.8,767.16 418.8,767.16 420.8,767.16 422.8,767.16 424.8,767.16 426.8,767.16 428.8,767.16 430.8,767.16 432.8,767.16 434.8,767.16 436.8,767.16 438.8,767.16 440.8,767.15 442.8,767.13 444.8,767.11 446.8,767.07 448.8,767.03 450.8,766.97 452.8,766.90 454.8,766.83 456.8,766.74 458.8,766.65 460.8,766.56 462.8,766.45 464.8,766.33 466.8,766.18 468.8,766.00 470.8,765.77 472.8,765.50 474.8,765.17 476.8,764.80 478.8,764.38 480.8,763.94 482.8,763.48 484.8,762.99 486.8,762.48 488.8,761.94 490.8,761.36 492.8,760.74 494.8,760.10 496.8,759.44 498.8,758.75 500.8,758.05 502.8,757.32 504.8,756.58 506.8,755.81 508.8,755.00 510.8,754.12 512.8,753.18 514.8,752.17 516.8,751.13 518.8,750.07 520.8,748.99 522.8,747.90 524.8,746.78 526.8,745.63 528.8,744.45 530.8,743.24 532.8,742.02 534.8,740.79 536.8,739.58 538.8,738.44 540.8,737.38 542.8,736.38 544.8,735.38 546.8,734.36 548.8,733.32 550.8,732.29 552.8,731.29 554.8,730.36 556.8,729.54 558.8,728.86 560.8,728.31 562.8,727.88 564.8,727.52 566.8,727.23 568.8,727.00 570.8,726.81 572.8,726.65 574.8,726.53 576.8,726.42 578.8,726.33 580.8,726.28 582.8,726.25 584.8,726.27 586.8,726.34 588.8,726.45 590.8,726.59 592.8,726.75 594.8,726.91 596.8,727.06 598.8,727.21 600.8,727.35 602.8,727.49 604.8,727.63 606.8,727.76 608.8,727.89 610.8,728.00 612.8,728.11 614.8,728.20 616.8,728.29 618.8,728.38 620.8,728.48 622.8,728.60 624.8,728.73 626.8,728.91 628.8,729.12 630.8,729.39 632.8,729.71 634.8,730.08 636.8,730.50 638.8,730.98 640.8,731.54 642.8,732.19 644.8,732.95 646.8,733.79 648.8,734.69 650.8,735.63 652.8,736.60 654.8,737.59 656.8,738.59 658.8,739.57 660.8,740.52 662.8,741.42 664.8,742.28 666.8,743.09 668.8,743.81 670.8,744.45 672.8,745.01 674.8,745.49 676.8,745.89 678.8,746.20 680.8,746.42 682.8,746.53 684.8,746.58 686.8,746.60 688.8,746.60 690.8,746.60 692.8,746.60 694.8,746.60 696.8,746.60 698.8,746.60 700.8,746.60 702.8,746.60 704.8,746.60 706.8,746.60 708.8,746.60 710.8,746.60 712.8,746.60 714.8,746.60 716.8,746.60 718.8,746.60 720.8,746.60 722.8,746.61 724.8,746.63 726.8,746.66 728.8,746.72 730.8,746.80 732.8,746.89 734.8,747.01 736.8,747.14 738.8,747.29 740.8,747.48 742.8,747.71 744.8,747.98 746.8,748.30 748.8,748.65 750.8,749.05 752.8,749.50 754.8,749.99 756.8,750.52 758.8,751.10 760.8,751.72 762.8,752.40 764.8,753.12 766.8,753.86 768.8,754.60 770.8,755.31 772.8,756.00 774.8,756.66 776.8,757.28 778.8,757.84 780.8,758.33 782.8,758.76 784.8,759.14 786.8,759.45 788.8,759.71 790.8,759.89 792.8,760.01 794.8,760.08 796.8,760.14 798.8,760.18 800.8,760.23 802.8,760.30 804.8,760.41 806.8,760.57 808.8,760.77 810.8,761.01 812.8,761.27 814.8,761.55 816.8,761.84 818.8,762.13 820.8,762.43 822.8,762.74 824.8,763.05 826.8,763.36 828.8,763.65 830.8,763.92 832.8,764.16 834.8,764.37 836.8,764.55 838.8,764.73 840.8,764.89 842.8,765.03 844.8,765.17 846.8,765.29 848.8,765.41 850.8,765.51 852.8,765.61 854.8,765.70 856.8,765.78 858.8,765.86 860.8,765.94 862.8,766.01 864.8,766.08 866.8,766.16 868.8,766.23 870.8,766.31 872.8,766.39 874.8,766.47 876.8,766.55 878.8,766.63 880.8,766.71 882.8,766.79 884.8,766.86 886.8,766.92 888.8,766.98 890.8,767.03 892.8,767.06 894.8,767.09 896.8,767.10 898.8,767.11 900.8,767.12 902.8,767.13 904.8,767.13 906.8,767.14 908.8,767.15 910.8,767.15 912.8,767.15 914.8,767.16 916.8,767.16 918.8,767.16 920.8,767.16 922.8,767.16 924.8,767.16 926.8,767.16 928.8,767.16 930.8,767.16 932.8,767.16 934.8,767.16 936.8,767.16 938.8,767.16 940.8,767.16 942.8,767.16 944.8,767.16 946.8,767.16 948.8,767.16 950.8,767.16 952.8,767.16 954.8,767.16 956.8,767.16 958.8,767.16 960.8,767.16 962.8,767.16 964.8,767.16 966.8,767.16 968.8,767.16 970.8,767.16 972.8,767.16 974.8,767.16 976.8,767.16 978.8,767.16 980.8,767.16 982.8,767.16 984.8,767.16 986.8,767.16 988.8,767.16 990.8,767.16 992.8,767.16 994.8,767.16 996.8,767.16 998.8,767.16 1000.8,767.16 1002.8,767.16 1004.8,767.16 1006.8,767.16 1008.8,767.16 1010.8,767.16 1012.8,767.16 1014.8,767.16 1016.8,767.16 1018.8,767.16 1020.8,767.16 1022.8,767.16 1024.8,767.16 1026.8,767.16 1028.8,767.16 1030.8,767.16 1032.8,767.16 1034.8,767.16 1036.8,767.16 1038.8,767.16 1040.8,767.16 1042.8,767.16 1044.8,767.16 1046.8,767.16 1048.8,767.16 1050.8,767.16 1052.8,767.16 1054.8,767.16 1056.8,767.16 1058.8,767.16 1060.8,767.16 1062.8,767.16 1064.8,767.16 1066.8,767.16 1068.8,767.16 1070.8,767.16 1072.8,767.16 1074.8,767.16 1076.8,767.16 1078.8,767.16 1080.8,767.16 1082.8,767.16 1084.8,767.16 1086.8,767.16 1088.8,767.16 1090.8,767.16 1092.8,767.16 1094.8,767.16 1096.8,767.16 1098.8,767.16 1100.8,767.16 1102.8,767.16 1104.8,767.16 1106.8,767.16 1108.8,767.16 1110.8,767.16 1112.8,767.16 1114.8,767.16 1116.8,767.16 1118.8,767.16 1120.8,767.16 1122.8,767.16 1124.8,767.16 1126.8,767.16 1128.8,767.16 1130.8,767.16 1132.8,767.16 1134.8,767.16 1136.8,767.16 1138.8,767.16 1140.8,767.16 1142.8,767.16 1144.8,767.16 1146.8,767.16 1148.8,767.16 1150.8,767.16 1152.8,767.16 1154.8,767.16 1156.8,767.16 1158.8,767.16 1160.8,767.16 1162.8,767.16 1164.8,767.16 1166.8,767.16 1168.8,767.16 1170.8,767.16 1172.8,767.16 1174.8,767.16 1176.8,767.16 1178.8,767.16 1180.8,767.16 1182.8,767.16 1184.8,767.16 1186.8,767.16 1188.8,767.16 1190.8,767.16 1192.8,767.16 1194.8,767.16 1196.8,767.16 1198.8,767.16 1200.8,767.16 1202.8,767.16 1204.8,767.16 1206.8,767.16 1208.8,767.16 1210.8,767.16 1212.8,767.16 1214.8,767.16 1216.8,767.16 1218.8,767.16 1220.8,767.16 1222.8,767.16 1224.8,767.16 1226.8,767.16 1228.8,767.16 1230.8,767.16 1232.8,767.16 1234.8,767.16 1236.8,767.16 1238.8,767.16 1240.8,767.16 1242.8,767.16 1244.8,767.16 1246.8,767.16 1248.8,767.16 1250.8,767.16 1252.8,767.16 1254.8,767.16 1256.8,767.16 1258.8,767.16 1260.8,767.16 1262.8,767.16 1264.8,767.16 1266.8,767.16 1268.8,767.16 1270.8,767.16 1272.8,767.16 1274.8,767.16 1276.8,767.16 1278.8,767.16 1280.8,767.16 1282.8,767.16 1284.8,767.16 1286.8,767.16 1288.8,767.16 1290.8,767.16 1292.8,767.16 1294.8,767.16 1296.8,767.16 1297.3,767.16 1297.3,767.16" fill="rgb(245,120,112)" fill-opacity="0.7"/>
<path d="M543.8 767.16V735.96M626.3 767.16V728.81M749.2 767.16V748.68" stroke="#000" stroke-width="2.8" fill="none"/>
<polyline points="410.8,767.16 412.8,767.16 414.8,767.16 416.8,767.16 418.8,767.16 420.8,767.16 422.8,767.16 424.8,767.16 426.8,767.16 428.8,767.16 430.8,767.16 432.8,767.16 434.8,767.16 436.8,767.16 438.8,767.16 440.8,767.15 442.8,767.13 444.8,767.11 446.8,767.07 448.8,767.03 450.8,766.97 452.8,766.90 454.8,766.83 456.8,766.74 458.8,766.65 460.8,766.56 462.8,766.45 464.8,766.33 466.8,766.18 468.8,766.00 470.8,765.77 472.8,765.50 474.8,765.17 476.8,764.80 478.8,764.38 480.8,763.94 482.8,763.48 484.8,762.99 486.8,762.48 488.8,761.94 490.8,761.36 492.8,760.74 494.8,760.10 496.8,759.44 498.8,758.75 500.8,758.05 502.8,757.32 504.8,756.58 506.8,755.81 508.8,755.00 510.8,754.12 512.8,753.18 514.8,752.17 516.8,751.13 518.8,750.07 520.8,748.99 522.8,747.90 524.8,746.78 526.8,745.63 528.8,744.45 530.8,743.24 532.8,742.02 534.8,740.79 536.8,739.58 538.8,738.44 540.8,737.38 542.8,736.38 544.8,735.38 546.8,734.36 548.8,733.32 550.8,732.29 552.8,731.29 554.8,730.36 556.8,729.54 558.8,728.86 560.8,728.31 562.8,727.88 564.8,727.52 566.8,727.23 568.8,727.00 570.8,726.81 572.8,726.65 574.8,726.53 576.8,726.42 578.8,726.33 580.8,726.28 582.8,726.25 584.8,726.27 586.8,726.34 588.8,726.45 590.8,726.59 592.8,726.75 594.8,726.91 596.8,727.06 598.8,727.21 600.8,727.35 602.8,727.49 604.8,727.63 606.8,727.76 608.8,727.89 610.8,728.00 612.8,728.11 614.8,728.20 616.8,728.29 618.8,728.38 620.8,728.48 622.8,728.60 624.8,728.73 626.8,728.91 628.8,729.12 630.8,729.39 632.8,729.71 634.8,730.08 636.8,730.50 638.8,730.98 640.8,731.54 642.8,732.19 644.8,732.95 646.8,733.79 648.8,734.69 650.8,735.63 652.8,736.60 654.8,737.59 656.8,738.59 658.8,739.57 660.8,740.52 662.8,741.42 664.8,742.28 666.8,743.09 668.8,743.81 670.8,744.45 672.8,745.01 674.8,745.49 676.8,745.89 678.8,746.20 680.8,746.42 682.8,746.53 684.8,746.58 686.8,746.60 688.8,746.60 690.8,746.60 692.8,746.60 694.8,746.60 696.8,746.60 698.8,746.60 700.8,746.60 702.8,746.60 704.8,746.60 706.8,746.60 708.8,746.60 710.8,746.60 712.8,746.60 714.8,746.60 716.8,746.60 718.8,746.60 720.8,746.60 722.8,746.61 724.8,746.63 726.8,746.66 728.8,746.72 730.8,746.80 732.8,746.89 734.8,747.01 736.8,747.14 738.8,747.29 740.8,747.48 742.8,747.71 744.8,747.98 746.8,748.30 748.8,748.65 750.8,749.05 752.8,749.50 754.8,749.99 756.8,750.52 758.8,751.10 760.8,751.72 762.8,752.40 764.8,753.12 766.8,753.86 768.8,754.60 770.8,755.31 772.8,756.00 774.8,756.66 776.8,757.28 778.8,757.84 780.8,758.33 782.8,758.76 784.8,759.14 786.8,759.45 788.8,759.71 790.8,759.89 792.8,760.01 794.8,760.08 796.8,760.14 798.8,760.18 800.8,760.23 802.8,760.30 804.8,760.41 806.8,760.57 808.8,760.77 810.8,761.01 812.8,761.27 814.8,761.55 816.8,761.84 818.8,762.13 820.8,762.43 822.8,762.74 824.8,763.05 826.8,763.36 828.8,763.65 830.8,763.92 832.8,764.16 834.8,764.37 836.8,764.55 838.8,764.73 840.8,764.89 842.8,765.03 844.8,765.17 846.8,765.29 848.8,765.41 850.8,765.51 852.8,765.61 854.8,765.70 856.8,765.78 858.8,765.86 860.8,765.94 862.8,766.01 864.8,766.08 866.8,766.16 868.8,766.23 870.8,766.31 872.8,766.39 874.8,766.47 876.8,766.55 878.8,766.63 880.8,766.71 882.8,766.79 884.8,766.86 886.8,766.92 888.8,766.98 890.8,767.03 892.8,767.06 894.8,767.09 896.8,767.10 898.8,767.11 900.8,767.12 902.8,767.13 904.8,767.13 906.8,767.14 908.8,767.15 910.8,767.15 912.8,767.15 914.8,767.16 916.8,767.16 918.8,767.16 920.8,767.16 922.8,767.16 924.8,767.16 926.8,767.16 928.8,767.16 930.8,767.16 932.8,767.16 934.8,767.16 936.8,767.16 938.8,767.16 940.8,767.16 942.8,767.16 944.8,767.16 946.8,767.16 948.8,767.16 950.8,767.16 952.8,767.16 954.8,767.16 956.8,767.16 958.8,767.16 960.8,767.16 962.8,767.16 964.8,767.16 966.8,767.16 968.8,767.16 970.8,767.16 972.8,767.16 974.8,767.16 976.8,767.16 978.8,767.16 980.8,767.16 982.8,767.16 984.8,767.16 986.8,767.16 988.8,767.16 990.8,767.16 992.8,767.16 994.8,767.16 996.8,767.16 998.8,767.16 1000.8,767.16 1002.8,767.16 1004.8,767.16 1006.8,767.16 1008.8,767.16 1010.8,767.16 1012.8,767.16 1014.8,767.16 1016.8,767.16 1018.8,767.16 1020.8,767.16 1022.8,767.16 1024.8,767.16 1026.8,767.16 1028.8,767.16 1030.8,767.16 1032.8,767.16 1034.8,767.16 1036.8,767.16 1038.8,767.16 1040.8,767.16 1042.8,767.16 1044.8,767.16 1046.8,767.16 1048.8,767.16 1050.8,767.16 1052.8,767.16 1054.8,767.16 1056.8,767.16 1058.8,767.16 1060.8,767.16 1062.8,767.16 1064.8,767.16 1066.8,767.16 1068.8,767.16 1070.8,767.16 1072.8,767.16 1074.8,767.16 1076.8,767.16 1078.8,767.16 1080.8,767.16 1082.8,767.16 1084.8,767.16 1086.8,767.16 1088.8,767.16 1090.8,767.16 1092.8,767.16 1094.8,767.16 1096.8,767.16 1098.8,767.16 1100.8,767.16 1102.8,767.16 1104.8,767.16 1106.8,767.16 1108.8,767.16 1110.8,767.16 1112.8,767.16 1114.8,767.16 1116.8,767.16 1118.8,767.16 1120.8,767.16 1122.8,767.16 1124.8,767.16 1126.8,767.16 1128.8,767.16 1130.8,767.16 1132.8,767.16 1134.8,767.16 1136.8,767.16 1138.8,767.16 1140.8,767.16 1142.8,767.16 1144.8,767.16 1146.8,767.16 1148.8,767.16 1150.8,767.16 1152.8,767.16 1154.8,767.16 1156.8,767.16 1158.8,767.16 1160.8,767.16 1162.8,767.16 1164.8,767.16 1166.8,767.16 1168.8,767.16 1170.8,767.16 1172.8,767.16 1174.8,767.16 1176.8,767.16 1178.8,767.16 1180.8,767.16 1182.8,767.16 1184.8,767.16 1186.8,767.16 1188.8,767.16 1190.8,767.16 1192.8,767.16 1194.8,767.16 1196.8,767.16 1198.8,767.16 1200.8,767.16 1202.8,767.16 1204.8,767.16 1206.8,767.16 1208.8,767.16 1210.8,767.16 1212.8,767.16 1214.8,767.16 1216.8,767.16 1218.8,767.16 1220.8,767.16 1222.8,767.16 1224.8,767.16 1226.8,767.16 1228.8,767.16 1230.8,767.16 1232.8,767.16 1234.8,767.16 1236.8,767.16 1238.8,767.16 1240.8,767.16 1242.8,767.16 1244.8,767.16 1246.8,767.16 1248.8,767.16 1250.8,767.16 1252.8,767.16 1254.8,767.16 1256.8,767.16 1258.8,767.16 1260.8,767.16 1262.8,767.16 1264.8,767.16 1266.8,767.16 1268.8,767.16 1270.8,767.16 1272.8,767.16 1274.8,767.16 1276.8,767.16 1278.8,767.16 1280.8,767.16 1282.8,767.16 1284.8,767.16 1286.8,767.16 1288.8,767.16 1290.8,767.16 1292.8,767.16 1294.8,767.16 1296.8,767.16 1297.3,767.16" stroke="#000" stroke-width="2.8" fill="none" stroke-linecap="round" stroke-linejoin="round"/>
<polygon points="1053.30,77.90 1061.18,91.55 1045.42,91.55" fill="#FF0000" stroke="#000" stroke-width="2.4" stroke-linejoin="bevel" shape-rendering="crispEdges"/>
<polygon points="831.60,162.97 839.48,176.62 823.72,176.62" fill="#FF0000" stroke="#000" stroke-width="2.4" stroke-linejoin="bevel" shape-rendering="crispEdges"/>
<polygon points="656.70,248.04 664.58,261.69 648.82,261.69" fill="#FF0000" stroke="#000" stroke-width="2.4" stroke-linejoin="bevel" shape-rendering="crispEdges"/>
<polygon points="653.30,333.11 661.18,346.76 645.42,346.76" fill="#FF0000" stroke="#000" stroke-width="2.4" stroke-linejoin="bevel" shape-rendering="crispEdges"/>
<polygon points="646.30,418.18 654.18,431.83 638.42,431.83" fill="#FF0000" stroke="#000" stroke-width="2.4" stroke-linejoin="bevel" shape-rendering="crispEdges"/>
<polygon points="573.70,503.25 581.58,516.90 565.82,516.90" fill="#FF0000" stroke="#000" stroke-width="2.4" stroke-linejoin="bevel" shape-rendering="crispEdges"/>
<polygon points="564.90,588.32 572.78,601.97 557.02,601.97" fill="#FF0000" stroke="#000" stroke-width="2.4" stroke-linejoin="bevel" shape-rendering="crispEdges"/>
<polygon points="547.70,673.39 555.58,687.04 539.82,687.04" fill="#FF0000" stroke="#000" stroke-width="2.4" stroke-linejoin="bevel" shape-rendering="crispEdges"/>
<polygon points="459.50,758.46 467.38,772.11 451.62,772.11" fill="#FF0000" stroke="#000" stroke-width="2.4" stroke-linejoin="bevel" shape-rendering="crispEdges"/>
<text x="385.5" y="87" text-anchor="end" font-size="32.25" textLength="272.36" lengthAdjust="spacing">Malik Nabers (WR)</text>
<text x="385.5" y="172" text-anchor="end" font-size="32.25" textLength="260.34" lengthAdjust="spacing">Dak Prescott (QB)</text>
<text x="385.5" y="258" text-anchor="end" font-size="32.25" textLength="300.44" lengthAdjust="spacing">Terry McLaurin (WR)</text>
<text x="385.5" y="343" text-anchor="end" font-size="32.25" textLength="223.57" lengthAdjust="spacing">DJ Moore (WR)</text>
<text x="385.5" y="428" text-anchor="end" font-size="32.25" textLength="307.86" lengthAdjust="spacing">Tyrone Tracy Jr. (RB)</text>
<text x="385.5" y="513" text-anchor="end" font-size="32.25" textLength="166.44" lengthAdjust="spacing">Wil Lutz (K)</text>
<text x="385.5" y="598" text-anchor="end" font-size="32.25" textLength="224.88" lengthAdjust="spacing">RJ Harvey (RB)</text>
<text x="385.5" y="683" text-anchor="end" font-size="32.25" textLength="294.23" lengthAdjust="spacing">T.J. Hockenson (TE)</text>
<text x="385.5" y="768" text-anchor="end" font-size="32.25" textLength="305.38" lengthAdjust="spacing">Chicago Bears (DEF)</text>
<text x="516.5" y="877" text-anchor="middle" font-size="33.6">0</text>
<text x="801.2" y="877" text-anchor="middle" font-size="33.6">20</text>
<text x="1086.0" y="877" text-anchor="middle" font-size="33.6">40</text>
<text x="1306.5" y="930" text-anchor="end" font-size="37.2">points</text>
</svg>
</body></html>
